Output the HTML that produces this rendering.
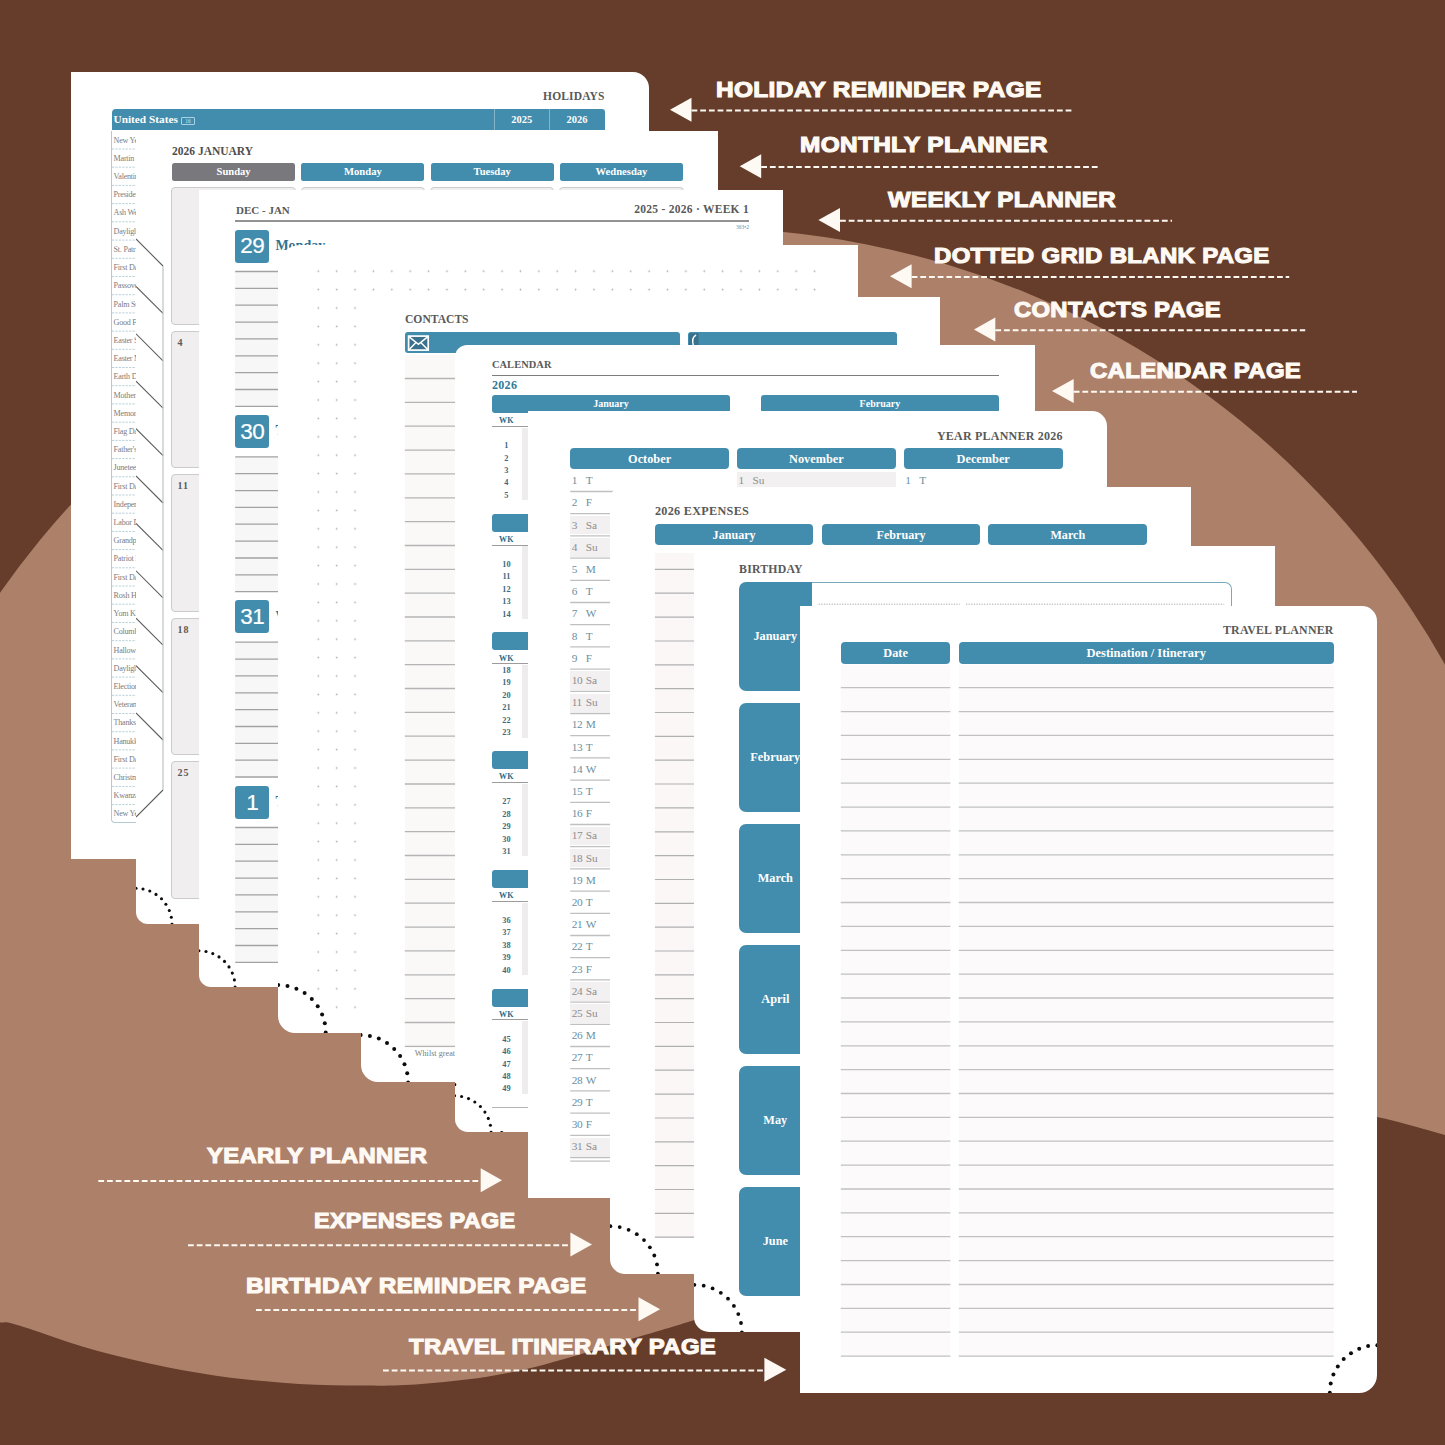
<!DOCTYPE html><html><head><meta charset="utf-8"><title>Planner pages</title><style>
html,body{margin:0;padding:0;background:#653d2a;}
#c{position:relative;width:1445px;height:1445px;overflow:hidden;background:#653d2a;font-family:'Liberation Serif','DejaVu Serif',serif;}
#c div,#c span,#c svg{position:absolute;box-sizing:border-box;}
.pg{background:#fff;overflow:hidden;}
.in{left:0;top:0;}
.lbl{font:bold 22.5px 'Liberation Sans','DejaVu Sans',sans-serif;letter-spacing:.3px;color:#fef9f3;white-space:nowrap;line-height:24px;-webkit-text-stroke:1.15px #fef9f3;transform-origin:0 0;}
.t{white-space:nowrap;line-height:1;}
</style></head><body><div id="c">
<svg width="1445" height="1445" viewBox="0 0 1445 1445" style="left:0;top:0"><circle cx="700" cy="1082" r="854" fill="#ad806a"/><path d="M-40,1322.5 C-33.3,1322.5 -8.3,1322.4 0,1322.5 C8.3,1322.6 4.5,1321.8 10,1323 C15.5,1324.2 23.6,1326.9 33,1330 C42.4,1333.1 55.3,1337.9 66.4,1341.5 C77.5,1345.1 88.6,1348.4 99.7,1351.4 C110.8,1354.4 122.0,1357.1 133,1359.7 C144.1,1362.3 154.9,1364.8 166,1367 C177.1,1369.2 188.2,1371.2 199.3,1373 C210.4,1374.8 221.4,1376.6 232.5,1378 C243.6,1379.4 254.6,1380.3 265.7,1381.3 C276.8,1382.3 287.9,1383.3 299,1384 C310.1,1384.7 321.1,1385.0 332.2,1385.3 C343.3,1385.6 354.1,1385.6 365.4,1385.6 C376.7,1385.6 386.9,1385.8 400,1385.2 C413.1,1384.6 429.5,1383.4 444.3,1381.9 C459.1,1380.4 473.8,1378.8 488.6,1376.4 C503.4,1374.0 518.1,1371.0 532.9,1367.5 C547.6,1364.0 562.4,1359.5 577.1,1355.3 C591.9,1351.0 606.6,1346.4 621.4,1342 C636.2,1337.6 653.5,1332.5 665.7,1328.8 C677.9,1325.1 672.1,1326.9 694.5,1319.9 C716.9,1312.9 757.4,1300.3 800,1287 C842.6,1273.7 900.0,1256.2 950,1240 C1000.0,1223.8 1055.0,1205.8 1100,1190 C1145.0,1174.2 1188.3,1156.7 1220,1145 C1251.7,1133.3 1270.8,1125.3 1290,1120 C1309.2,1114.7 1320.5,1113.5 1335,1113 C1349.5,1112.5 1358.7,1113.3 1377,1117 C1395.3,1120.7 1424.5,1129.2 1445,1135 C1465.5,1140.8 1490.8,1149.2 1500,1152 L1500,1500 L-40,1500 Z" fill="#653d2a"/></svg>
<div class="pg" style="left:71px;top:71.6px;width:578.3px;height:787.4px;border-radius:0 16px 0 0"><div class="in" style="left:-71px;top:-71.6px;width:1445px;height:1445px"><span class="t" style="left:604.6px;top:91.27px;font-size:11.5px;line-height:11.5px;font-family:'Liberation Serif','DejaVu Serif',serif;transform:translateX(-100%);font-weight:bold;color:#595959;letter-spacing:.15px">HOLIDAYS</span><div style="left:111.6px;top:109.1px;width:493.0px;height:21.4px;background:#428cad;border-radius:4px 3px 0 0"></div><div style="left:494.2px;top:109.1px;width:1.0px;height:21.4px;background:rgba(255,255,255,.35)"></div><div style="left:549.0px;top:109.1px;width:1.0px;height:21.4px;background:rgba(255,255,255,.35)"></div><span class="t" style="left:113.5px;top:114.24px;font-size:11.3px;line-height:11.3px;font-family:'Liberation Serif','DejaVu Serif',serif;font-weight:bold;color:#fff">United States</span><div style="left:180.8px;top:116.6px;width:14.4px;height:8.9px;border:1px solid #a9d2e4;border-radius:1px"></div><span class="t" style="left:188.0px;top:118.59px;font-size:5.5px;line-height:5.5px;font-family:'Liberation Serif','DejaVu Serif',serif;transform:translateX(-50%);color:#cfe6f0">16</span><span class="t" style="left:521.7px;top:115.21px;font-size:10.5px;line-height:10.5px;font-family:'Liberation Serif','DejaVu Serif',serif;transform:translateX(-50%);font-weight:bold;color:#fff">2025</span><span class="t" style="left:577.1px;top:115.21px;font-size:10.5px;line-height:10.5px;font-family:'Liberation Serif','DejaVu Serif',serif;transform:translateX(-50%);font-weight:bold;color:#fff">2026</span><div style="left:111.1px;top:130.5px;width:88.9px;height:692.5px;border-left:1px solid #b3cad5;border-bottom:1px solid #b3cad5;border-radius:0 0 0 4px"></div><span class="t" style="left:113.6px;top:136.62px;font-size:8.1px;line-height:8.1px;font-family:'Liberation Serif','DejaVu Serif',serif;color:#7c7c7c;letter-spacing:-.25px">New Year's Day</span><span class="t" style="left:113.6px;top:154.83px;font-size:8.1px;line-height:8.1px;font-family:'Liberation Serif','DejaVu Serif',serif;color:#7c7c7c;letter-spacing:-.25px">Martin Luther King Jr. Day</span><span class="t" style="left:113.6px;top:173.04px;font-size:8.1px;line-height:8.1px;font-family:'Liberation Serif','DejaVu Serif',serif;color:#7c7c7c;letter-spacing:-.25px">Valentine's Day</span><span class="t" style="left:113.6px;top:191.25px;font-size:8.1px;line-height:8.1px;font-family:'Liberation Serif','DejaVu Serif',serif;color:#7c7c7c;letter-spacing:-.25px">Presidents' Day</span><span class="t" style="left:113.6px;top:209.46px;font-size:8.1px;line-height:8.1px;font-family:'Liberation Serif','DejaVu Serif',serif;color:#7c7c7c;letter-spacing:-.25px">Ash Wednesday</span><span class="t" style="left:113.6px;top:227.67px;font-size:8.1px;line-height:8.1px;font-family:'Liberation Serif','DejaVu Serif',serif;color:#7c7c7c;letter-spacing:-.25px">Daylight Saving Time starts</span><span class="t" style="left:113.6px;top:245.88px;font-size:8.1px;line-height:8.1px;font-family:'Liberation Serif','DejaVu Serif',serif;color:#7c7c7c;letter-spacing:-.25px">St. Patrick's Day</span><span class="t" style="left:113.6px;top:264.09px;font-size:8.1px;line-height:8.1px;font-family:'Liberation Serif','DejaVu Serif',serif;color:#7c7c7c;letter-spacing:-.25px">First Day of Spring</span><span class="t" style="left:113.6px;top:282.30px;font-size:8.1px;line-height:8.1px;font-family:'Liberation Serif','DejaVu Serif',serif;color:#7c7c7c;letter-spacing:-.25px">Passover</span><span class="t" style="left:113.6px;top:300.51px;font-size:8.1px;line-height:8.1px;font-family:'Liberation Serif','DejaVu Serif',serif;color:#7c7c7c;letter-spacing:-.25px">Palm Sunday</span><span class="t" style="left:113.6px;top:318.72px;font-size:8.1px;line-height:8.1px;font-family:'Liberation Serif','DejaVu Serif',serif;color:#7c7c7c;letter-spacing:-.25px">Good Friday</span><span class="t" style="left:113.6px;top:336.93px;font-size:8.1px;line-height:8.1px;font-family:'Liberation Serif','DejaVu Serif',serif;color:#7c7c7c;letter-spacing:-.25px">Easter Sunday</span><span class="t" style="left:113.6px;top:355.14px;font-size:8.1px;line-height:8.1px;font-family:'Liberation Serif','DejaVu Serif',serif;color:#7c7c7c;letter-spacing:-.25px">Easter Monday</span><span class="t" style="left:113.6px;top:373.35px;font-size:8.1px;line-height:8.1px;font-family:'Liberation Serif','DejaVu Serif',serif;color:#7c7c7c;letter-spacing:-.25px">Earth Day</span><span class="t" style="left:113.6px;top:391.56px;font-size:8.1px;line-height:8.1px;font-family:'Liberation Serif','DejaVu Serif',serif;color:#7c7c7c;letter-spacing:-.25px">Mother's Day</span><span class="t" style="left:113.6px;top:409.77px;font-size:8.1px;line-height:8.1px;font-family:'Liberation Serif','DejaVu Serif',serif;color:#7c7c7c;letter-spacing:-.25px">Memorial Day</span><span class="t" style="left:113.6px;top:427.98px;font-size:8.1px;line-height:8.1px;font-family:'Liberation Serif','DejaVu Serif',serif;color:#7c7c7c;letter-spacing:-.25px">Flag Day</span><span class="t" style="left:113.6px;top:446.19px;font-size:8.1px;line-height:8.1px;font-family:'Liberation Serif','DejaVu Serif',serif;color:#7c7c7c;letter-spacing:-.25px">Father's Day</span><span class="t" style="left:113.6px;top:464.40px;font-size:8.1px;line-height:8.1px;font-family:'Liberation Serif','DejaVu Serif',serif;color:#7c7c7c;letter-spacing:-.25px">Juneteenth</span><span class="t" style="left:113.6px;top:482.61px;font-size:8.1px;line-height:8.1px;font-family:'Liberation Serif','DejaVu Serif',serif;color:#7c7c7c;letter-spacing:-.25px">First Day of Summer</span><span class="t" style="left:113.6px;top:500.82px;font-size:8.1px;line-height:8.1px;font-family:'Liberation Serif','DejaVu Serif',serif;color:#7c7c7c;letter-spacing:-.25px">Independence Day</span><span class="t" style="left:113.6px;top:519.03px;font-size:8.1px;line-height:8.1px;font-family:'Liberation Serif','DejaVu Serif',serif;color:#7c7c7c;letter-spacing:-.25px">Labor Day</span><span class="t" style="left:113.6px;top:537.24px;font-size:8.1px;line-height:8.1px;font-family:'Liberation Serif','DejaVu Serif',serif;color:#7c7c7c;letter-spacing:-.25px">Grandparents Day</span><span class="t" style="left:113.6px;top:555.45px;font-size:8.1px;line-height:8.1px;font-family:'Liberation Serif','DejaVu Serif',serif;color:#7c7c7c;letter-spacing:-.25px">Patriot Day</span><span class="t" style="left:113.6px;top:573.66px;font-size:8.1px;line-height:8.1px;font-family:'Liberation Serif','DejaVu Serif',serif;color:#7c7c7c;letter-spacing:-.25px">First Day of Autumn</span><span class="t" style="left:113.6px;top:591.87px;font-size:8.1px;line-height:8.1px;font-family:'Liberation Serif','DejaVu Serif',serif;color:#7c7c7c;letter-spacing:-.25px">Rosh Hashanah</span><span class="t" style="left:113.6px;top:610.08px;font-size:8.1px;line-height:8.1px;font-family:'Liberation Serif','DejaVu Serif',serif;color:#7c7c7c;letter-spacing:-.25px">Yom Kippur</span><span class="t" style="left:113.6px;top:628.29px;font-size:8.1px;line-height:8.1px;font-family:'Liberation Serif','DejaVu Serif',serif;color:#7c7c7c;letter-spacing:-.25px">Columbus Day</span><span class="t" style="left:113.6px;top:646.50px;font-size:8.1px;line-height:8.1px;font-family:'Liberation Serif','DejaVu Serif',serif;color:#7c7c7c;letter-spacing:-.25px">Halloween</span><span class="t" style="left:113.6px;top:664.71px;font-size:8.1px;line-height:8.1px;font-family:'Liberation Serif','DejaVu Serif',serif;color:#7c7c7c;letter-spacing:-.25px">Daylight Saving Time ends</span><span class="t" style="left:113.6px;top:682.92px;font-size:8.1px;line-height:8.1px;font-family:'Liberation Serif','DejaVu Serif',serif;color:#7c7c7c;letter-spacing:-.25px">Election Day</span><span class="t" style="left:113.6px;top:701.13px;font-size:8.1px;line-height:8.1px;font-family:'Liberation Serif','DejaVu Serif',serif;color:#7c7c7c;letter-spacing:-.25px">Veterans Day</span><span class="t" style="left:113.6px;top:719.34px;font-size:8.1px;line-height:8.1px;font-family:'Liberation Serif','DejaVu Serif',serif;color:#7c7c7c;letter-spacing:-.25px">Thanksgiving Day</span><span class="t" style="left:113.6px;top:737.55px;font-size:8.1px;line-height:8.1px;font-family:'Liberation Serif','DejaVu Serif',serif;color:#7c7c7c;letter-spacing:-.25px">Hanukkah</span><span class="t" style="left:113.6px;top:755.76px;font-size:8.1px;line-height:8.1px;font-family:'Liberation Serif','DejaVu Serif',serif;color:#7c7c7c;letter-spacing:-.25px">First Day of Winter</span><span class="t" style="left:113.6px;top:773.97px;font-size:8.1px;line-height:8.1px;font-family:'Liberation Serif','DejaVu Serif',serif;color:#7c7c7c;letter-spacing:-.25px">Christmas Day</span><span class="t" style="left:113.6px;top:792.18px;font-size:8.1px;line-height:8.1px;font-family:'Liberation Serif','DejaVu Serif',serif;color:#7c7c7c;letter-spacing:-.25px">Kwanzaa</span><span class="t" style="left:113.6px;top:810.39px;font-size:8.1px;line-height:8.1px;font-family:'Liberation Serif','DejaVu Serif',serif;color:#7c7c7c;letter-spacing:-.25px">New Year's Eve</span><svg width="1445" height="1445" viewBox="0 0 1445 1445" style="left:0;top:0" stroke="#b9cfd9" stroke-width="1" stroke-dasharray="2.2 1.2" fill="none"><path d="M112,149.0H400"/><path d="M112,167.2H400"/><path d="M112,185.4H400"/><path d="M112,203.6H400"/><path d="M112,221.8H400"/><path d="M112,240.1H400"/><path d="M112,258.3H400"/><path d="M112,276.5H400"/><path d="M112,294.7H400"/><path d="M112,312.9H400"/><path d="M112,331.1H400"/><path d="M112,349.3H400"/><path d="M112,367.5H400"/><path d="M112,385.7H400"/><path d="M112,403.9H400"/><path d="M112,422.2H400"/><path d="M112,440.4H400"/><path d="M112,458.6H400"/><path d="M112,476.8H400"/><path d="M112,495.0H400"/><path d="M112,513.2H400"/><path d="M112,531.4H400"/><path d="M112,549.6H400"/><path d="M112,567.8H400"/><path d="M112,586.0H400"/><path d="M112,604.2H400"/><path d="M112,622.5H400"/><path d="M112,640.7H400"/><path d="M112,658.9H400"/><path d="M112,677.1H400"/><path d="M112,695.3H400"/><path d="M112,713.5H400"/><path d="M112,731.7H400"/><path d="M112,749.9H400"/><path d="M112,768.1H400"/><path d="M112,786.4H400"/><path d="M112,804.6H400"/></svg></div></div>
<div class="pg" style="left:136px;top:131.1px;width:582.2px;height:793.1999999999999px;border-radius:0 0 0 12px"><div class="in" style="left:-136px;top:-131.1px;width:1445px;height:1445px"><span class="t" style="left:172.0px;top:145.87px;font-size:11.5px;line-height:11.5px;font-family:'Liberation Serif','DejaVu Serif',serif;font-weight:bold;color:#4e4e4e">2026 JANUARY</span><div style="left:172.0px;top:162.5px;width:123.2px;height:18.8px;background:#78787d;border-radius:2.5px"></div><span class="t" style="left:233.6px;top:166.93px;font-size:10.6px;line-height:10.6px;font-family:'Liberation Serif','DejaVu Serif',serif;transform:translateX(-50%);font-weight:bold;color:#fff">Sunday</span><div style="left:171.4px;top:187.4px;width:124.4px;height:137.7px;background:#f0eeef;border:1.2px solid #cbcbcb;border-radius:4px"></div><div style="left:171.4px;top:330.8px;width:124.4px;height:137.7px;background:#f0eeef;border:1.2px solid #cbcbcb;border-radius:4px"></div><div style="left:171.4px;top:474.2px;width:124.4px;height:137.7px;background:#f0eeef;border:1.2px solid #cbcbcb;border-radius:4px"></div><div style="left:171.4px;top:617.6px;width:124.4px;height:137.7px;background:#f0eeef;border:1.2px solid #cbcbcb;border-radius:4px"></div><div style="left:171.4px;top:761.0px;width:124.4px;height:137.7px;background:#f0eeef;border:1.2px solid #cbcbcb;border-radius:4px"></div><div style="left:301.3px;top:162.5px;width:123.2px;height:18.8px;background:#428cad;border-radius:2.5px"></div><span class="t" style="left:362.9px;top:166.93px;font-size:10.6px;line-height:10.6px;font-family:'Liberation Serif','DejaVu Serif',serif;transform:translateX(-50%);font-weight:bold;color:#fff">Monday</span><div style="left:300.7px;top:187.4px;width:124.4px;height:137.7px;background:#f0eeef;border:1.2px solid #cbcbcb;border-radius:4px"></div><div style="left:300.7px;top:330.8px;width:124.4px;height:137.7px;background:#f0eeef;border:1.2px solid #cbcbcb;border-radius:4px"></div><div style="left:300.7px;top:474.2px;width:124.4px;height:137.7px;background:#f0eeef;border:1.2px solid #cbcbcb;border-radius:4px"></div><div style="left:300.7px;top:617.6px;width:124.4px;height:137.7px;background:#f0eeef;border:1.2px solid #cbcbcb;border-radius:4px"></div><div style="left:300.7px;top:761.0px;width:124.4px;height:137.7px;background:#f0eeef;border:1.2px solid #cbcbcb;border-radius:4px"></div><div style="left:430.6px;top:162.5px;width:123.2px;height:18.8px;background:#428cad;border-radius:2.5px"></div><span class="t" style="left:492.2px;top:166.93px;font-size:10.6px;line-height:10.6px;font-family:'Liberation Serif','DejaVu Serif',serif;transform:translateX(-50%);font-weight:bold;color:#fff">Tuesday</span><div style="left:430.0px;top:187.4px;width:124.4px;height:137.7px;background:#f0eeef;border:1.2px solid #cbcbcb;border-radius:4px"></div><div style="left:430.0px;top:330.8px;width:124.4px;height:137.7px;background:#f0eeef;border:1.2px solid #cbcbcb;border-radius:4px"></div><div style="left:430.0px;top:474.2px;width:124.4px;height:137.7px;background:#f0eeef;border:1.2px solid #cbcbcb;border-radius:4px"></div><div style="left:430.0px;top:617.6px;width:124.4px;height:137.7px;background:#f0eeef;border:1.2px solid #cbcbcb;border-radius:4px"></div><div style="left:430.0px;top:761.0px;width:124.4px;height:137.7px;background:#f0eeef;border:1.2px solid #cbcbcb;border-radius:4px"></div><div style="left:559.9px;top:162.5px;width:123.2px;height:18.8px;background:#428cad;border-radius:2.5px"></div><span class="t" style="left:621.5px;top:166.93px;font-size:10.6px;line-height:10.6px;font-family:'Liberation Serif','DejaVu Serif',serif;transform:translateX(-50%);font-weight:bold;color:#fff">Wednesday</span><div style="left:559.3px;top:187.4px;width:124.4px;height:137.7px;background:#f0eeef;border:1.2px solid #cbcbcb;border-radius:4px"></div><div style="left:559.3px;top:330.8px;width:124.4px;height:137.7px;background:#f0eeef;border:1.2px solid #cbcbcb;border-radius:4px"></div><div style="left:559.3px;top:474.2px;width:124.4px;height:137.7px;background:#f0eeef;border:1.2px solid #cbcbcb;border-radius:4px"></div><div style="left:559.3px;top:617.6px;width:124.4px;height:137.7px;background:#f0eeef;border:1.2px solid #cbcbcb;border-radius:4px"></div><div style="left:559.3px;top:761.0px;width:124.4px;height:137.7px;background:#f0eeef;border:1.2px solid #cbcbcb;border-radius:4px"></div><span class="t" style="left:177.6px;top:337.93px;font-size:10px;line-height:10px;font-family:'Liberation Serif','DejaVu Serif',serif;font-weight:bold;color:#5a5a5a;letter-spacing:.9px">4</span><span class="t" style="left:177.6px;top:481.33px;font-size:10px;line-height:10px;font-family:'Liberation Serif','DejaVu Serif',serif;font-weight:bold;color:#5a5a5a;letter-spacing:.9px">11</span><span class="t" style="left:177.6px;top:624.73px;font-size:10px;line-height:10px;font-family:'Liberation Serif','DejaVu Serif',serif;font-weight:bold;color:#5a5a5a;letter-spacing:.9px">18</span><span class="t" style="left:177.6px;top:768.12px;font-size:10px;line-height:10px;font-family:'Liberation Serif','DejaVu Serif',serif;font-weight:bold;color:#5a5a5a;letter-spacing:.9px">25</span><svg width="1445" height="1445" viewBox="0 0 1445 1445" style="left:0;top:0" stroke-width="0.9" fill="none"><path d="M136,239 L163,266 M163,790 L136,817 M136,286.4 L163,313.4 M136,333.8 L163,360.8 M136,381.2 L163,408.2 M136,428.6 L163,455.6 M136,476.0 L163,503.0 M136,523.4 L163,550.4 M136,570.8 L163,597.8 M136,618.2 L163,645.2 M136,665.6 L163,692.6 M136,713.0 L163,740.0" stroke="#5e5e5e" stroke-width="1.1"/><path d="M163,266 V790" stroke="#c2c2c2" stroke-width="1.2"/></svg><svg width="1445" height="1445" viewBox="0 0 1445 1445" style="left:0;top:0" fill="#0c0c0c"><circle cx="136.0" cy="888.3" r="1.55"/><circle cx="143.0" cy="889.0" r="1.55"/><circle cx="149.8" cy="891.0" r="1.55"/><circle cx="156.0" cy="894.4" r="1.55"/><circle cx="161.5" cy="898.8" r="1.55"/><circle cx="165.9" cy="904.3" r="1.55"/><circle cx="169.3" cy="910.5" r="1.55"/><circle cx="171.3" cy="917.3" r="1.55"/><circle cx="172.0" cy="924.3" r="1.55"/></svg></div></div>
<div class="pg" style="left:198.9px;top:190.2px;width:584.6px;height:796.8px;border-radius:0 0 0 12px"><div class="in" style="left:-198.9px;top:-190.2px;width:1445px;height:1445px"><span class="t" style="left:236.0px;top:204.69px;font-size:11px;line-height:11px;font-family:'Liberation Serif','DejaVu Serif',serif;font-weight:bold;color:#595959;letter-spacing:0">DEC - JAN</span><span class="t" style="left:749.0px;top:204.27px;font-size:11.5px;line-height:11.5px;font-family:'Liberation Serif','DejaVu Serif',serif;transform:translateX(-100%);font-weight:bold;color:#595959;letter-spacing:.27px">2025 - 2026 · WEEK 1</span><div style="left:235.2px;top:220.0px;width:513.8px;height:1.5px;background:#939393"></div><span class="t" style="left:749.0px;top:224.99px;font-size:5.5px;line-height:5.5px;font-family:'Liberation Serif','DejaVu Serif',serif;transform:translateX(-100%);color:#5b93ad">363•2</span><div style="left:235.2px;top:271.5px;width:513.8px;height:134.8px;background:#f8f7f7"></div><div style="left:235.2px;top:229.5px;width:33.5px;height:33.2px;background:#428cad;border-radius:3px"></div><span class="t" style="left:252.2px;top:235.45px;font-size:22.5px;line-height:22.5px;font-family:'Liberation Sans','DejaVu Sans',sans-serif;transform:translateX(-50%);color:#fff;letter-spacing:-.6px;-webkit-text-stroke:.2px #fff">29</span><span class="t" style="left:275.4px;top:238.97px;font-size:14px;line-height:14px;font-family:'Liberation Serif','DejaVu Serif',serif;font-weight:bold;color:#2f7291">Monday</span><div style="left:235.2px;top:456.9px;width:513.8px;height:134.8px;background:#f8f7f7"></div><div style="left:235.2px;top:414.9px;width:33.5px;height:33.2px;background:#428cad;border-radius:3px"></div><span class="t" style="left:252.2px;top:420.80px;font-size:22.5px;line-height:22.5px;font-family:'Liberation Sans','DejaVu Sans',sans-serif;transform:translateX(-50%);color:#fff;letter-spacing:-.6px;-webkit-text-stroke:.2px #fff">30</span><span class="t" style="left:275.4px;top:424.32px;font-size:14px;line-height:14px;font-family:'Liberation Serif','DejaVu Serif',serif;font-weight:bold;color:#2f7291">Tuesday</span><div style="left:235.2px;top:642.2px;width:513.8px;height:134.8px;background:#f8f7f7"></div><div style="left:235.2px;top:600.2px;width:33.5px;height:33.2px;background:#428cad;border-radius:3px"></div><span class="t" style="left:252.2px;top:606.15px;font-size:22.5px;line-height:22.5px;font-family:'Liberation Sans','DejaVu Sans',sans-serif;transform:translateX(-50%);color:#fff;letter-spacing:-.6px;-webkit-text-stroke:.2px #fff">31</span><span class="t" style="left:275.4px;top:609.68px;font-size:14px;line-height:14px;font-family:'Liberation Serif','DejaVu Serif',serif;font-weight:bold;color:#2f7291">Wednesday</span><div style="left:235.2px;top:827.5px;width:513.8px;height:134.8px;background:#f8f7f7"></div><div style="left:235.2px;top:785.5px;width:33.5px;height:33.2px;background:#428cad;border-radius:3px"></div><span class="t" style="left:252.2px;top:791.50px;font-size:22.5px;line-height:22.5px;font-family:'Liberation Sans','DejaVu Sans',sans-serif;transform:translateX(-50%);color:#fff;letter-spacing:-.6px;-webkit-text-stroke:.2px #fff">1</span><span class="t" style="left:275.4px;top:795.02px;font-size:14px;line-height:14px;font-family:'Liberation Serif','DejaVu Serif',serif;font-weight:bold;color:#2f7291">Thursday</span><svg width="1445" height="1445" viewBox="0 0 1445 1445" style="left:0;top:0" stroke="#a2a2a2" stroke-width="1.3" fill="none"><path d="M235.2,271.5H749"/><path d="M235.2,288.4H749"/><path d="M235.2,305.2H749"/><path d="M235.2,322.1H749"/><path d="M235.2,338.9H749"/><path d="M235.2,355.8H749"/><path d="M235.2,372.6H749"/><path d="M235.2,389.5H749"/><path d="M235.2,406.3H749"/><path d="M235.2,456.9H749"/><path d="M235.2,473.7H749"/><path d="M235.2,490.6H749"/><path d="M235.2,507.4H749"/><path d="M235.2,524.2H749"/><path d="M235.2,541.1H749"/><path d="M235.2,558.0H749"/><path d="M235.2,574.8H749"/><path d="M235.2,591.7H749"/><path d="M235.2,642.2H749"/><path d="M235.2,659.1H749"/><path d="M235.2,675.9H749"/><path d="M235.2,692.8H749"/><path d="M235.2,709.6H749"/><path d="M235.2,726.5H749"/><path d="M235.2,743.3H749"/><path d="M235.2,760.2H749"/><path d="M235.2,777.0H749"/><path d="M235.2,827.5H749"/><path d="M235.2,844.4H749"/><path d="M235.2,861.2H749"/><path d="M235.2,878.1H749"/><path d="M235.2,894.9H749"/><path d="M235.2,911.8H749"/><path d="M235.2,928.6H749"/><path d="M235.2,945.5H749"/><path d="M235.2,962.3H749"/></svg><svg width="1445" height="1445" viewBox="0 0 1445 1445" style="left:0;top:0" fill="#0c0c0c"><circle cx="198.9" cy="950.8" r="1.55"/><circle cx="206.0" cy="951.5" r="1.55"/><circle cx="212.8" cy="953.6" r="1.55"/><circle cx="219.0" cy="956.9" r="1.55"/><circle cx="224.5" cy="961.4" r="1.55"/><circle cx="229.0" cy="966.9" r="1.55"/><circle cx="232.3" cy="973.1" r="1.55"/><circle cx="234.4" cy="979.9" r="1.55"/><circle cx="235.1" cy="987.0" r="1.55"/></svg></div></div>
<div class="pg" style="left:278.2px;top:245px;width:579.4000000000001px;height:787.5999999999999px;border-radius:22px 0 0 17px"><div class="in" style="left:-278.2px;top:-245px;width:1445px;height:1445px"><svg width="1445" height="1445" viewBox="0 0 1445 1445" style="left:0;top:0" ><defs><pattern id="dg" x="309.11" y="262" width="18.38" height="18.4" patternUnits="userSpaceOnUse"><circle cx="9.19" cy="9.2" r="0.85" fill="#adadad"/></pattern></defs><rect x="309.2" y="262" width="516" height="755" fill="url(#dg)"/></svg><svg width="1445" height="1445" viewBox="0 0 1445 1445" style="left:0;top:0" fill="#0c0c0c"><circle cx="278.2" cy="985.1" r="2.0"/><circle cx="287.5" cy="986.0" r="2.0"/><circle cx="296.4" cy="988.7" r="2.0"/><circle cx="304.6" cy="993.1" r="2.0"/><circle cx="311.8" cy="999.0" r="2.0"/><circle cx="317.7" cy="1006.2" r="2.0"/><circle cx="322.1" cy="1014.4" r="2.0"/><circle cx="324.8" cy="1023.3" r="2.0"/><circle cx="325.7" cy="1032.6" r="2.0"/></svg></div></div>
<div class="pg" style="left:360.6px;top:296.6px;width:579.9px;height:785.9px;border-radius:0 0 0 17px"><div class="in" style="left:-360.6px;top:-296.6px;width:1445px;height:1445px"><span class="t" style="left:405.0px;top:314.19px;font-size:11.6px;line-height:11.6px;font-family:'Liberation Serif','DejaVu Serif',serif;font-weight:bold;color:#595959">CONTACTS</span><div style="left:404.8px;top:355.0px;width:492.2px;height:692.5px;background:#fbf8f8"></div><div style="left:404.9px;top:332.3px;width:275.2px;height:21.2px;background:#428cad;border-radius:3px"></div><div style="left:688.0px;top:332.3px;width:209.0px;height:21.2px;background:#428cad;border-radius:3px"></div><svg width="1445" height="1445" viewBox="0 0 1445 1445" style="left:0;top:0" ><rect x="408.6" y="336.1" width="19.6" height="14" fill="#3a728e" stroke="#fff" stroke-width="1.7"/><path d="M409.2,336.8 L418.4,344.4 L427.6,336.8 M409.2,349.6 L416,342.6 M427.6,349.6 L420.8,342.6" stroke="#fff" stroke-width="1.5" fill="none"/><rect x="689" y="333.2" width="9.6" height="19" fill="#3a728e"/><path d="M695.6,335.4 c-2.6,1.6 -3.6,4.6 -2.4,9.2" stroke="#fff" stroke-width="1.5" fill="none" stroke-linecap="round"/></svg><svg width="1445" height="1445" viewBox="0 0 1445 1445" style="left:0;top:0" stroke="#b4b4b4" stroke-width="1.3" fill="none"><path d="M404.8,378.5H897"/><path d="M404.8,402.4H897"/><path d="M404.8,426.2H897"/><path d="M404.8,450.1H897"/><path d="M404.8,473.9H897"/><path d="M404.8,497.8H897"/><path d="M404.8,521.6H897"/><path d="M404.8,545.5H897"/><path d="M404.8,569.3H897"/><path d="M404.8,593.1H897"/><path d="M404.8,617.0H897"/><path d="M404.8,640.9H897"/><path d="M404.8,664.7H897"/><path d="M404.8,688.5H897"/><path d="M404.8,712.4H897"/><path d="M404.8,736.2H897"/><path d="M404.8,760.1H897"/><path d="M404.8,784.0H897"/><path d="M404.8,807.8H897"/><path d="M404.8,831.7H897"/><path d="M404.8,855.5H897"/><path d="M404.8,879.4H897"/><path d="M404.8,903.2H897"/><path d="M404.8,927.1H897"/><path d="M404.8,950.9H897"/><path d="M404.8,974.8H897"/><path d="M404.8,998.6H897"/><path d="M404.8,1022.5H897"/><path d="M404.8,1046.3H897"/></svg><span class="t" style="left:414.8px;top:1049.73px;font-size:8.2px;line-height:8.2px;font-family:'Liberation Serif','DejaVu Serif',serif;color:#7c7c7c">Whilst great care has been taken in the compilation of this planner</span><svg width="1445" height="1445" viewBox="0 0 1445 1445" style="left:0;top:0" fill="#0c0c0c"><circle cx="360.6" cy="1035.0" r="2.0"/><circle cx="369.9" cy="1035.9" r="2.0"/><circle cx="378.8" cy="1038.6" r="2.0"/><circle cx="387.0" cy="1043.0" r="2.0"/><circle cx="394.2" cy="1048.9" r="2.0"/><circle cx="400.1" cy="1056.1" r="2.0"/><circle cx="404.5" cy="1064.3" r="2.0"/><circle cx="407.2" cy="1073.2" r="2.0"/><circle cx="408.1" cy="1082.5" r="2.0"/></svg></div></div>
<div class="pg" style="left:454.5px;top:344.7px;width:580.5px;height:787.7px;border-radius:12px 0 0 13px"><div class="in" style="left:-454.5px;top:-344.7px;width:1445px;height:1445px"><span class="t" style="left:491.9px;top:359.89px;font-size:10.4px;line-height:10.4px;font-family:'Liberation Serif','DejaVu Serif',serif;font-weight:bold;color:#595959;letter-spacing:.1px">CALENDAR</span><div style="left:491.9px;top:374.5px;width:507.3px;height:1.1px;background:#7d7d7d"></div><span class="t" style="left:491.9px;top:378.85px;font-size:12px;line-height:12px;font-family:'Liberation Serif','DejaVu Serif',serif;font-weight:bold;color:#2f7a99;letter-spacing:.35px">2026</span><div style="left:491.9px;top:395.0px;width:238.3px;height:18.1px;background:#428cad;border-radius:3px"></div><span class="t" style="left:611.0px;top:399.38px;font-size:10px;line-height:10px;font-family:'Liberation Serif','DejaVu Serif',serif;transform:translateX(-50%);font-weight:bold;color:#fff">January</span><div style="left:760.5px;top:395.0px;width:238.7px;height:18.1px;background:#428cad;border-radius:3px"></div><span class="t" style="left:879.9px;top:399.38px;font-size:10px;line-height:10px;font-family:'Liberation Serif','DejaVu Serif',serif;transform:translateX(-50%);font-weight:bold;color:#fff">February</span><span class="t" style="left:506.4px;top:417.10px;font-size:8px;line-height:8px;font-family:'Liberation Serif','DejaVu Serif',serif;transform:translateX(-50%);font-weight:bold;color:#2d6983;letter-spacing:.3px">WK</span><div style="left:491.9px;top:425.8px;width:238.3px;height:1.1px;background:#9c9c9c"></div><div style="left:522.0px;top:427.6px;width:6.5px;height:72.6px;background:#eeecec"></div><span class="t" style="left:506.4px;top:442.05px;font-size:8.3px;line-height:8.3px;font-family:'Liberation Serif','DejaVu Serif',serif;transform:translateX(-50%);font-weight:bold;color:#3a6b80">1</span><span class="t" style="left:506.4px;top:454.50px;font-size:8.3px;line-height:8.3px;font-family:'Liberation Serif','DejaVu Serif',serif;transform:translateX(-50%);font-weight:bold;color:#3a6b80">2</span><span class="t" style="left:506.4px;top:466.95px;font-size:8.3px;line-height:8.3px;font-family:'Liberation Serif','DejaVu Serif',serif;transform:translateX(-50%);font-weight:bold;color:#3a6b80">3</span><span class="t" style="left:506.4px;top:479.40px;font-size:8.3px;line-height:8.3px;font-family:'Liberation Serif','DejaVu Serif',serif;transform:translateX(-50%);font-weight:bold;color:#3a6b80">4</span><span class="t" style="left:506.4px;top:491.85px;font-size:8.3px;line-height:8.3px;font-family:'Liberation Serif','DejaVu Serif',serif;transform:translateX(-50%);font-weight:bold;color:#3a6b80">5</span><div style="left:491.9px;top:513.7px;width:238.3px;height:18.1px;background:#428cad;border-radius:3px"></div><span class="t" style="left:611.0px;top:518.09px;font-size:10px;line-height:10px;font-family:'Liberation Serif','DejaVu Serif',serif;transform:translateX(-50%);font-weight:bold;color:#fff">March</span><div style="left:760.5px;top:513.7px;width:238.7px;height:18.1px;background:#428cad;border-radius:3px"></div><span class="t" style="left:879.9px;top:518.09px;font-size:10px;line-height:10px;font-family:'Liberation Serif','DejaVu Serif',serif;transform:translateX(-50%);font-weight:bold;color:#fff">April</span><span class="t" style="left:506.4px;top:535.82px;font-size:8px;line-height:8px;font-family:'Liberation Serif','DejaVu Serif',serif;transform:translateX(-50%);font-weight:bold;color:#2d6983;letter-spacing:.3px">WK</span><div style="left:491.9px;top:544.5px;width:238.3px;height:1.1px;background:#9c9c9c"></div><div style="left:522.0px;top:546.3px;width:6.5px;height:72.6px;background:#eeecec"></div><span class="t" style="left:506.4px;top:560.77px;font-size:8.3px;line-height:8.3px;font-family:'Liberation Serif','DejaVu Serif',serif;transform:translateX(-50%);font-weight:bold;color:#3a6b80">10</span><span class="t" style="left:506.4px;top:573.22px;font-size:8.3px;line-height:8.3px;font-family:'Liberation Serif','DejaVu Serif',serif;transform:translateX(-50%);font-weight:bold;color:#3a6b80">11</span><span class="t" style="left:506.4px;top:585.67px;font-size:8.3px;line-height:8.3px;font-family:'Liberation Serif','DejaVu Serif',serif;transform:translateX(-50%);font-weight:bold;color:#3a6b80">12</span><span class="t" style="left:506.4px;top:598.12px;font-size:8.3px;line-height:8.3px;font-family:'Liberation Serif','DejaVu Serif',serif;transform:translateX(-50%);font-weight:bold;color:#3a6b80">13</span><span class="t" style="left:506.4px;top:610.57px;font-size:8.3px;line-height:8.3px;font-family:'Liberation Serif','DejaVu Serif',serif;transform:translateX(-50%);font-weight:bold;color:#3a6b80">14</span><div style="left:491.9px;top:632.4px;width:238.3px;height:18.1px;background:#428cad;border-radius:3px"></div><span class="t" style="left:611.0px;top:636.81px;font-size:10px;line-height:10px;font-family:'Liberation Serif','DejaVu Serif',serif;transform:translateX(-50%);font-weight:bold;color:#fff">May</span><div style="left:760.5px;top:632.4px;width:238.7px;height:18.1px;background:#428cad;border-radius:3px"></div><span class="t" style="left:879.9px;top:636.81px;font-size:10px;line-height:10px;font-family:'Liberation Serif','DejaVu Serif',serif;transform:translateX(-50%);font-weight:bold;color:#fff">June</span><span class="t" style="left:506.4px;top:654.54px;font-size:8px;line-height:8px;font-family:'Liberation Serif','DejaVu Serif',serif;transform:translateX(-50%);font-weight:bold;color:#2d6983;letter-spacing:.3px">WK</span><div style="left:491.9px;top:663.2px;width:238.3px;height:1.1px;background:#9c9c9c"></div><div style="left:522.0px;top:665.0px;width:6.5px;height:72.6px;background:#eeecec"></div><span class="t" style="left:506.4px;top:667.04px;font-size:8.3px;line-height:8.3px;font-family:'Liberation Serif','DejaVu Serif',serif;transform:translateX(-50%);font-weight:bold;color:#3a6b80">18</span><span class="t" style="left:506.4px;top:679.49px;font-size:8.3px;line-height:8.3px;font-family:'Liberation Serif','DejaVu Serif',serif;transform:translateX(-50%);font-weight:bold;color:#3a6b80">19</span><span class="t" style="left:506.4px;top:691.94px;font-size:8.3px;line-height:8.3px;font-family:'Liberation Serif','DejaVu Serif',serif;transform:translateX(-50%);font-weight:bold;color:#3a6b80">20</span><span class="t" style="left:506.4px;top:704.39px;font-size:8.3px;line-height:8.3px;font-family:'Liberation Serif','DejaVu Serif',serif;transform:translateX(-50%);font-weight:bold;color:#3a6b80">21</span><span class="t" style="left:506.4px;top:716.84px;font-size:8.3px;line-height:8.3px;font-family:'Liberation Serif','DejaVu Serif',serif;transform:translateX(-50%);font-weight:bold;color:#3a6b80">22</span><span class="t" style="left:506.4px;top:729.29px;font-size:8.3px;line-height:8.3px;font-family:'Liberation Serif','DejaVu Serif',serif;transform:translateX(-50%);font-weight:bold;color:#3a6b80">23</span><div style="left:491.9px;top:751.2px;width:238.3px;height:18.1px;background:#428cad;border-radius:3px"></div><span class="t" style="left:611.0px;top:755.53px;font-size:10px;line-height:10px;font-family:'Liberation Serif','DejaVu Serif',serif;transform:translateX(-50%);font-weight:bold;color:#fff">July</span><div style="left:760.5px;top:751.2px;width:238.7px;height:18.1px;background:#428cad;border-radius:3px"></div><span class="t" style="left:879.9px;top:755.53px;font-size:10px;line-height:10px;font-family:'Liberation Serif','DejaVu Serif',serif;transform:translateX(-50%);font-weight:bold;color:#fff">August</span><span class="t" style="left:506.4px;top:773.26px;font-size:8px;line-height:8px;font-family:'Liberation Serif','DejaVu Serif',serif;transform:translateX(-50%);font-weight:bold;color:#2d6983;letter-spacing:.3px">WK</span><div style="left:491.9px;top:782.0px;width:238.3px;height:1.1px;background:#9c9c9c"></div><div style="left:522.0px;top:783.8px;width:6.5px;height:72.6px;background:#eeecec"></div><span class="t" style="left:506.4px;top:798.21px;font-size:8.3px;line-height:8.3px;font-family:'Liberation Serif','DejaVu Serif',serif;transform:translateX(-50%);font-weight:bold;color:#3a6b80">27</span><span class="t" style="left:506.4px;top:810.66px;font-size:8.3px;line-height:8.3px;font-family:'Liberation Serif','DejaVu Serif',serif;transform:translateX(-50%);font-weight:bold;color:#3a6b80">28</span><span class="t" style="left:506.4px;top:823.11px;font-size:8.3px;line-height:8.3px;font-family:'Liberation Serif','DejaVu Serif',serif;transform:translateX(-50%);font-weight:bold;color:#3a6b80">29</span><span class="t" style="left:506.4px;top:835.56px;font-size:8.3px;line-height:8.3px;font-family:'Liberation Serif','DejaVu Serif',serif;transform:translateX(-50%);font-weight:bold;color:#3a6b80">30</span><span class="t" style="left:506.4px;top:848.01px;font-size:8.3px;line-height:8.3px;font-family:'Liberation Serif','DejaVu Serif',serif;transform:translateX(-50%);font-weight:bold;color:#3a6b80">31</span><div style="left:491.9px;top:869.9px;width:238.3px;height:18.1px;background:#428cad;border-radius:3px"></div><span class="t" style="left:611.0px;top:874.25px;font-size:10px;line-height:10px;font-family:'Liberation Serif','DejaVu Serif',serif;transform:translateX(-50%);font-weight:bold;color:#fff">September</span><div style="left:760.5px;top:869.9px;width:238.7px;height:18.1px;background:#428cad;border-radius:3px"></div><span class="t" style="left:879.9px;top:874.25px;font-size:10px;line-height:10px;font-family:'Liberation Serif','DejaVu Serif',serif;transform:translateX(-50%);font-weight:bold;color:#fff">October</span><span class="t" style="left:506.4px;top:891.98px;font-size:8px;line-height:8px;font-family:'Liberation Serif','DejaVu Serif',serif;transform:translateX(-50%);font-weight:bold;color:#2d6983;letter-spacing:.3px">WK</span><div style="left:491.9px;top:900.7px;width:238.3px;height:1.1px;background:#9c9c9c"></div><div style="left:522.0px;top:902.5px;width:6.5px;height:72.6px;background:#eeecec"></div><span class="t" style="left:506.4px;top:916.93px;font-size:8.3px;line-height:8.3px;font-family:'Liberation Serif','DejaVu Serif',serif;transform:translateX(-50%);font-weight:bold;color:#3a6b80">36</span><span class="t" style="left:506.4px;top:929.38px;font-size:8.3px;line-height:8.3px;font-family:'Liberation Serif','DejaVu Serif',serif;transform:translateX(-50%);font-weight:bold;color:#3a6b80">37</span><span class="t" style="left:506.4px;top:941.83px;font-size:8.3px;line-height:8.3px;font-family:'Liberation Serif','DejaVu Serif',serif;transform:translateX(-50%);font-weight:bold;color:#3a6b80">38</span><span class="t" style="left:506.4px;top:954.28px;font-size:8.3px;line-height:8.3px;font-family:'Liberation Serif','DejaVu Serif',serif;transform:translateX(-50%);font-weight:bold;color:#3a6b80">39</span><span class="t" style="left:506.4px;top:966.73px;font-size:8.3px;line-height:8.3px;font-family:'Liberation Serif','DejaVu Serif',serif;transform:translateX(-50%);font-weight:bold;color:#3a6b80">40</span><div style="left:491.9px;top:988.6px;width:238.3px;height:18.1px;background:#428cad;border-radius:3px"></div><span class="t" style="left:611.0px;top:992.98px;font-size:10px;line-height:10px;font-family:'Liberation Serif','DejaVu Serif',serif;transform:translateX(-50%);font-weight:bold;color:#fff">November</span><div style="left:760.5px;top:988.6px;width:238.7px;height:18.1px;background:#428cad;border-radius:3px"></div><span class="t" style="left:879.9px;top:992.98px;font-size:10px;line-height:10px;font-family:'Liberation Serif','DejaVu Serif',serif;transform:translateX(-50%);font-weight:bold;color:#fff">December</span><span class="t" style="left:506.4px;top:1010.70px;font-size:8px;line-height:8px;font-family:'Liberation Serif','DejaVu Serif',serif;transform:translateX(-50%);font-weight:bold;color:#2d6983;letter-spacing:.3px">WK</span><div style="left:491.9px;top:1019.4px;width:238.3px;height:1.1px;background:#9c9c9c"></div><div style="left:522.0px;top:1021.2px;width:6.5px;height:72.6px;background:#eeecec"></div><span class="t" style="left:506.4px;top:1035.65px;font-size:8.3px;line-height:8.3px;font-family:'Liberation Serif','DejaVu Serif',serif;transform:translateX(-50%);font-weight:bold;color:#3a6b80">45</span><span class="t" style="left:506.4px;top:1048.10px;font-size:8.3px;line-height:8.3px;font-family:'Liberation Serif','DejaVu Serif',serif;transform:translateX(-50%);font-weight:bold;color:#3a6b80">46</span><span class="t" style="left:506.4px;top:1060.55px;font-size:8.3px;line-height:8.3px;font-family:'Liberation Serif','DejaVu Serif',serif;transform:translateX(-50%);font-weight:bold;color:#3a6b80">47</span><span class="t" style="left:506.4px;top:1073.00px;font-size:8.3px;line-height:8.3px;font-family:'Liberation Serif','DejaVu Serif',serif;transform:translateX(-50%);font-weight:bold;color:#3a6b80">48</span><span class="t" style="left:506.4px;top:1085.45px;font-size:8.3px;line-height:8.3px;font-family:'Liberation Serif','DejaVu Serif',serif;transform:translateX(-50%);font-weight:bold;color:#3a6b80">49</span><div style="left:491.5px;top:1106.5px;width:507.7px;height:1.2px;background:#b5b5b5"></div><svg width="1445" height="1445" viewBox="0 0 1445 1445" style="left:0;top:0" fill="#0c0c0c"><circle cx="454.5" cy="1095.8" r="1.55"/><circle cx="461.6" cy="1096.5" r="1.55"/><circle cx="468.5" cy="1098.6" r="1.55"/><circle cx="474.8" cy="1102.0" r="1.55"/><circle cx="480.4" cy="1106.5" r="1.55"/><circle cx="484.9" cy="1112.1" r="1.55"/><circle cx="488.3" cy="1118.4" r="1.55"/><circle cx="490.4" cy="1125.3" r="1.55"/><circle cx="491.1" cy="1132.4" r="1.55"/><circle cx="454.6" cy="1084.6" r="1.7"/><circle cx="501.7" cy="1132.6" r="1.7"/></svg></div></div>
<div class="pg" style="left:528.2px;top:411px;width:578.3999999999999px;height:787px;border-radius:0 15px 0 0"><div class="in" style="left:-528.2px;top:-411px;width:1445px;height:1445px"><span class="t" style="left:1062.8px;top:429.55px;font-size:12px;line-height:12px;font-family:'Liberation Serif','DejaVu Serif',serif;transform:translateX(-100%);font-weight:bold;color:#595959;letter-spacing:.23px">YEAR PLANNER 2026</span><div style="left:570.2px;top:448.0px;width:158.8px;height:21.0px;background:#428cad;border-radius:4px"></div><span class="t" style="left:649.6px;top:452.68px;font-size:12.3px;line-height:12.3px;font-family:'Liberation Serif','DejaVu Serif',serif;transform:translateX(-50%);font-weight:bold;color:#fff">October</span><span class="t" style="left:571.7px;top:475.24px;font-size:11.3px;line-height:11.3px;font-family:'Liberation Serif','DejaVu Serif',serif;color:#6a8fa0;letter-spacing:-.3px">1</span><span class="t" style="left:585.8px;top:475.24px;font-size:11.3px;line-height:11.3px;font-family:'Liberation Serif','DejaVu Serif',serif;color:#6a8fa0;letter-spacing:-.2px">T</span><span class="t" style="left:571.7px;top:497.44px;font-size:11.3px;line-height:11.3px;font-family:'Liberation Serif','DejaVu Serif',serif;color:#6a8fa0;letter-spacing:-.3px">2</span><span class="t" style="left:585.8px;top:497.44px;font-size:11.3px;line-height:11.3px;font-family:'Liberation Serif','DejaVu Serif',serif;color:#6a8fa0;letter-spacing:-.2px">F</span><div style="left:570.2px;top:515.9px;width:158.8px;height:18.6px;background:#f2f0f0"></div><span class="t" style="left:571.7px;top:519.64px;font-size:11.3px;line-height:11.3px;font-family:'Liberation Serif','DejaVu Serif',serif;color:#8e8e8e;letter-spacing:-.3px">3</span><span class="t" style="left:585.8px;top:519.64px;font-size:11.3px;line-height:11.3px;font-family:'Liberation Serif','DejaVu Serif',serif;color:#8e8e8e;letter-spacing:-.2px">Sa</span><div style="left:570.2px;top:538.1px;width:158.8px;height:18.6px;background:#f2f0f0"></div><span class="t" style="left:571.7px;top:541.84px;font-size:11.3px;line-height:11.3px;font-family:'Liberation Serif','DejaVu Serif',serif;color:#8e8e8e;letter-spacing:-.3px">4</span><span class="t" style="left:585.8px;top:541.84px;font-size:11.3px;line-height:11.3px;font-family:'Liberation Serif','DejaVu Serif',serif;color:#8e8e8e;letter-spacing:-.2px">Su</span><span class="t" style="left:571.7px;top:564.04px;font-size:11.3px;line-height:11.3px;font-family:'Liberation Serif','DejaVu Serif',serif;color:#6a8fa0;letter-spacing:-.3px">5</span><span class="t" style="left:585.8px;top:564.04px;font-size:11.3px;line-height:11.3px;font-family:'Liberation Serif','DejaVu Serif',serif;color:#6a8fa0;letter-spacing:-.2px">M</span><span class="t" style="left:571.7px;top:586.24px;font-size:11.3px;line-height:11.3px;font-family:'Liberation Serif','DejaVu Serif',serif;color:#6a8fa0;letter-spacing:-.3px">6</span><span class="t" style="left:585.8px;top:586.24px;font-size:11.3px;line-height:11.3px;font-family:'Liberation Serif','DejaVu Serif',serif;color:#6a8fa0;letter-spacing:-.2px">T</span><span class="t" style="left:571.7px;top:608.44px;font-size:11.3px;line-height:11.3px;font-family:'Liberation Serif','DejaVu Serif',serif;color:#6a8fa0;letter-spacing:-.3px">7</span><span class="t" style="left:585.8px;top:608.44px;font-size:11.3px;line-height:11.3px;font-family:'Liberation Serif','DejaVu Serif',serif;color:#6a8fa0;letter-spacing:-.2px">W</span><span class="t" style="left:571.7px;top:630.64px;font-size:11.3px;line-height:11.3px;font-family:'Liberation Serif','DejaVu Serif',serif;color:#6a8fa0;letter-spacing:-.3px">8</span><span class="t" style="left:585.8px;top:630.64px;font-size:11.3px;line-height:11.3px;font-family:'Liberation Serif','DejaVu Serif',serif;color:#6a8fa0;letter-spacing:-.2px">T</span><span class="t" style="left:571.7px;top:652.84px;font-size:11.3px;line-height:11.3px;font-family:'Liberation Serif','DejaVu Serif',serif;color:#6a8fa0;letter-spacing:-.3px">9</span><span class="t" style="left:585.8px;top:652.84px;font-size:11.3px;line-height:11.3px;font-family:'Liberation Serif','DejaVu Serif',serif;color:#6a8fa0;letter-spacing:-.2px">F</span><div style="left:570.2px;top:671.3px;width:158.8px;height:18.6px;background:#f2f0f0"></div><span class="t" style="left:571.7px;top:675.04px;font-size:11.3px;line-height:11.3px;font-family:'Liberation Serif','DejaVu Serif',serif;color:#8e8e8e;letter-spacing:-.3px">10</span><span class="t" style="left:585.8px;top:675.04px;font-size:11.3px;line-height:11.3px;font-family:'Liberation Serif','DejaVu Serif',serif;color:#8e8e8e;letter-spacing:-.2px">Sa</span><div style="left:570.2px;top:693.5px;width:158.8px;height:18.6px;background:#f2f0f0"></div><span class="t" style="left:571.7px;top:697.24px;font-size:11.3px;line-height:11.3px;font-family:'Liberation Serif','DejaVu Serif',serif;color:#8e8e8e;letter-spacing:-.3px">11</span><span class="t" style="left:585.8px;top:697.24px;font-size:11.3px;line-height:11.3px;font-family:'Liberation Serif','DejaVu Serif',serif;color:#8e8e8e;letter-spacing:-.2px">Su</span><span class="t" style="left:571.7px;top:719.44px;font-size:11.3px;line-height:11.3px;font-family:'Liberation Serif','DejaVu Serif',serif;color:#6a8fa0;letter-spacing:-.3px">12</span><span class="t" style="left:585.8px;top:719.44px;font-size:11.3px;line-height:11.3px;font-family:'Liberation Serif','DejaVu Serif',serif;color:#6a8fa0;letter-spacing:-.2px">M</span><span class="t" style="left:571.7px;top:741.64px;font-size:11.3px;line-height:11.3px;font-family:'Liberation Serif','DejaVu Serif',serif;color:#6a8fa0;letter-spacing:-.3px">13</span><span class="t" style="left:585.8px;top:741.64px;font-size:11.3px;line-height:11.3px;font-family:'Liberation Serif','DejaVu Serif',serif;color:#6a8fa0;letter-spacing:-.2px">T</span><span class="t" style="left:571.7px;top:763.84px;font-size:11.3px;line-height:11.3px;font-family:'Liberation Serif','DejaVu Serif',serif;color:#6a8fa0;letter-spacing:-.3px">14</span><span class="t" style="left:585.8px;top:763.84px;font-size:11.3px;line-height:11.3px;font-family:'Liberation Serif','DejaVu Serif',serif;color:#6a8fa0;letter-spacing:-.2px">W</span><span class="t" style="left:571.7px;top:786.04px;font-size:11.3px;line-height:11.3px;font-family:'Liberation Serif','DejaVu Serif',serif;color:#6a8fa0;letter-spacing:-.3px">15</span><span class="t" style="left:585.8px;top:786.04px;font-size:11.3px;line-height:11.3px;font-family:'Liberation Serif','DejaVu Serif',serif;color:#6a8fa0;letter-spacing:-.2px">T</span><span class="t" style="left:571.7px;top:808.24px;font-size:11.3px;line-height:11.3px;font-family:'Liberation Serif','DejaVu Serif',serif;color:#6a8fa0;letter-spacing:-.3px">16</span><span class="t" style="left:585.8px;top:808.24px;font-size:11.3px;line-height:11.3px;font-family:'Liberation Serif','DejaVu Serif',serif;color:#6a8fa0;letter-spacing:-.2px">F</span><div style="left:570.2px;top:826.7px;width:158.8px;height:18.6px;background:#f2f0f0"></div><span class="t" style="left:571.7px;top:830.44px;font-size:11.3px;line-height:11.3px;font-family:'Liberation Serif','DejaVu Serif',serif;color:#8e8e8e;letter-spacing:-.3px">17</span><span class="t" style="left:585.8px;top:830.44px;font-size:11.3px;line-height:11.3px;font-family:'Liberation Serif','DejaVu Serif',serif;color:#8e8e8e;letter-spacing:-.2px">Sa</span><div style="left:570.2px;top:848.9px;width:158.8px;height:18.6px;background:#f2f0f0"></div><span class="t" style="left:571.7px;top:852.64px;font-size:11.3px;line-height:11.3px;font-family:'Liberation Serif','DejaVu Serif',serif;color:#8e8e8e;letter-spacing:-.3px">18</span><span class="t" style="left:585.8px;top:852.64px;font-size:11.3px;line-height:11.3px;font-family:'Liberation Serif','DejaVu Serif',serif;color:#8e8e8e;letter-spacing:-.2px">Su</span><span class="t" style="left:571.7px;top:874.84px;font-size:11.3px;line-height:11.3px;font-family:'Liberation Serif','DejaVu Serif',serif;color:#6a8fa0;letter-spacing:-.3px">19</span><span class="t" style="left:585.8px;top:874.84px;font-size:11.3px;line-height:11.3px;font-family:'Liberation Serif','DejaVu Serif',serif;color:#6a8fa0;letter-spacing:-.2px">M</span><span class="t" style="left:571.7px;top:897.04px;font-size:11.3px;line-height:11.3px;font-family:'Liberation Serif','DejaVu Serif',serif;color:#6a8fa0;letter-spacing:-.3px">20</span><span class="t" style="left:585.8px;top:897.04px;font-size:11.3px;line-height:11.3px;font-family:'Liberation Serif','DejaVu Serif',serif;color:#6a8fa0;letter-spacing:-.2px">T</span><span class="t" style="left:571.7px;top:919.24px;font-size:11.3px;line-height:11.3px;font-family:'Liberation Serif','DejaVu Serif',serif;color:#6a8fa0;letter-spacing:-.3px">21</span><span class="t" style="left:585.8px;top:919.24px;font-size:11.3px;line-height:11.3px;font-family:'Liberation Serif','DejaVu Serif',serif;color:#6a8fa0;letter-spacing:-.2px">W</span><span class="t" style="left:571.7px;top:941.44px;font-size:11.3px;line-height:11.3px;font-family:'Liberation Serif','DejaVu Serif',serif;color:#6a8fa0;letter-spacing:-.3px">22</span><span class="t" style="left:585.8px;top:941.44px;font-size:11.3px;line-height:11.3px;font-family:'Liberation Serif','DejaVu Serif',serif;color:#6a8fa0;letter-spacing:-.2px">T</span><span class="t" style="left:571.7px;top:963.64px;font-size:11.3px;line-height:11.3px;font-family:'Liberation Serif','DejaVu Serif',serif;color:#6a8fa0;letter-spacing:-.3px">23</span><span class="t" style="left:585.8px;top:963.64px;font-size:11.3px;line-height:11.3px;font-family:'Liberation Serif','DejaVu Serif',serif;color:#6a8fa0;letter-spacing:-.2px">F</span><div style="left:570.2px;top:982.1px;width:158.8px;height:18.6px;background:#f2f0f0"></div><span class="t" style="left:571.7px;top:985.84px;font-size:11.3px;line-height:11.3px;font-family:'Liberation Serif','DejaVu Serif',serif;color:#8e8e8e;letter-spacing:-.3px">24</span><span class="t" style="left:585.8px;top:985.84px;font-size:11.3px;line-height:11.3px;font-family:'Liberation Serif','DejaVu Serif',serif;color:#8e8e8e;letter-spacing:-.2px">Sa</span><div style="left:570.2px;top:1004.3px;width:158.8px;height:18.6px;background:#f2f0f0"></div><span class="t" style="left:571.7px;top:1008.04px;font-size:11.3px;line-height:11.3px;font-family:'Liberation Serif','DejaVu Serif',serif;color:#8e8e8e;letter-spacing:-.3px">25</span><span class="t" style="left:585.8px;top:1008.04px;font-size:11.3px;line-height:11.3px;font-family:'Liberation Serif','DejaVu Serif',serif;color:#8e8e8e;letter-spacing:-.2px">Su</span><span class="t" style="left:571.7px;top:1030.24px;font-size:11.3px;line-height:11.3px;font-family:'Liberation Serif','DejaVu Serif',serif;color:#6a8fa0;letter-spacing:-.3px">26</span><span class="t" style="left:585.8px;top:1030.24px;font-size:11.3px;line-height:11.3px;font-family:'Liberation Serif','DejaVu Serif',serif;color:#6a8fa0;letter-spacing:-.2px">M</span><span class="t" style="left:571.7px;top:1052.44px;font-size:11.3px;line-height:11.3px;font-family:'Liberation Serif','DejaVu Serif',serif;color:#6a8fa0;letter-spacing:-.3px">27</span><span class="t" style="left:585.8px;top:1052.44px;font-size:11.3px;line-height:11.3px;font-family:'Liberation Serif','DejaVu Serif',serif;color:#6a8fa0;letter-spacing:-.2px">T</span><span class="t" style="left:571.7px;top:1074.64px;font-size:11.3px;line-height:11.3px;font-family:'Liberation Serif','DejaVu Serif',serif;color:#6a8fa0;letter-spacing:-.3px">28</span><span class="t" style="left:585.8px;top:1074.64px;font-size:11.3px;line-height:11.3px;font-family:'Liberation Serif','DejaVu Serif',serif;color:#6a8fa0;letter-spacing:-.2px">W</span><span class="t" style="left:571.7px;top:1096.84px;font-size:11.3px;line-height:11.3px;font-family:'Liberation Serif','DejaVu Serif',serif;color:#6a8fa0;letter-spacing:-.3px">29</span><span class="t" style="left:585.8px;top:1096.84px;font-size:11.3px;line-height:11.3px;font-family:'Liberation Serif','DejaVu Serif',serif;color:#6a8fa0;letter-spacing:-.2px">T</span><span class="t" style="left:571.7px;top:1119.04px;font-size:11.3px;line-height:11.3px;font-family:'Liberation Serif','DejaVu Serif',serif;color:#6a8fa0;letter-spacing:-.3px">30</span><span class="t" style="left:585.8px;top:1119.04px;font-size:11.3px;line-height:11.3px;font-family:'Liberation Serif','DejaVu Serif',serif;color:#6a8fa0;letter-spacing:-.2px">F</span><div style="left:570.2px;top:1137.5px;width:158.8px;height:18.6px;background:#f2f0f0"></div><span class="t" style="left:571.7px;top:1141.24px;font-size:11.3px;line-height:11.3px;font-family:'Liberation Serif','DejaVu Serif',serif;color:#8e8e8e;letter-spacing:-.3px">31</span><span class="t" style="left:585.8px;top:1141.24px;font-size:11.3px;line-height:11.3px;font-family:'Liberation Serif','DejaVu Serif',serif;color:#8e8e8e;letter-spacing:-.2px">Sa</span><div style="left:737.0px;top:448.0px;width:158.8px;height:21.0px;background:#428cad;border-radius:4px"></div><span class="t" style="left:816.4px;top:452.68px;font-size:12.3px;line-height:12.3px;font-family:'Liberation Serif','DejaVu Serif',serif;transform:translateX(-50%);font-weight:bold;color:#fff">November</span><div style="left:737.0px;top:471.5px;width:158.8px;height:18.6px;background:#f2f0f0"></div><span class="t" style="left:738.5px;top:475.24px;font-size:11.3px;line-height:11.3px;font-family:'Liberation Serif','DejaVu Serif',serif;color:#8e8e8e;letter-spacing:-.3px">1</span><span class="t" style="left:752.6px;top:475.24px;font-size:11.3px;line-height:11.3px;font-family:'Liberation Serif','DejaVu Serif',serif;color:#8e8e8e;letter-spacing:-.2px">Su</span><span class="t" style="left:738.5px;top:497.44px;font-size:11.3px;line-height:11.3px;font-family:'Liberation Serif','DejaVu Serif',serif;color:#6a8fa0;letter-spacing:-.3px">2</span><span class="t" style="left:752.6px;top:497.44px;font-size:11.3px;line-height:11.3px;font-family:'Liberation Serif','DejaVu Serif',serif;color:#6a8fa0;letter-spacing:-.2px">M</span><span class="t" style="left:738.5px;top:519.64px;font-size:11.3px;line-height:11.3px;font-family:'Liberation Serif','DejaVu Serif',serif;color:#6a8fa0;letter-spacing:-.3px">3</span><span class="t" style="left:752.6px;top:519.64px;font-size:11.3px;line-height:11.3px;font-family:'Liberation Serif','DejaVu Serif',serif;color:#6a8fa0;letter-spacing:-.2px">T</span><span class="t" style="left:738.5px;top:541.84px;font-size:11.3px;line-height:11.3px;font-family:'Liberation Serif','DejaVu Serif',serif;color:#6a8fa0;letter-spacing:-.3px">4</span><span class="t" style="left:752.6px;top:541.84px;font-size:11.3px;line-height:11.3px;font-family:'Liberation Serif','DejaVu Serif',serif;color:#6a8fa0;letter-spacing:-.2px">W</span><span class="t" style="left:738.5px;top:564.04px;font-size:11.3px;line-height:11.3px;font-family:'Liberation Serif','DejaVu Serif',serif;color:#6a8fa0;letter-spacing:-.3px">5</span><span class="t" style="left:752.6px;top:564.04px;font-size:11.3px;line-height:11.3px;font-family:'Liberation Serif','DejaVu Serif',serif;color:#6a8fa0;letter-spacing:-.2px">T</span><span class="t" style="left:738.5px;top:586.24px;font-size:11.3px;line-height:11.3px;font-family:'Liberation Serif','DejaVu Serif',serif;color:#6a8fa0;letter-spacing:-.3px">6</span><span class="t" style="left:752.6px;top:586.24px;font-size:11.3px;line-height:11.3px;font-family:'Liberation Serif','DejaVu Serif',serif;color:#6a8fa0;letter-spacing:-.2px">F</span><div style="left:737.0px;top:604.7px;width:158.8px;height:18.6px;background:#f2f0f0"></div><span class="t" style="left:738.5px;top:608.44px;font-size:11.3px;line-height:11.3px;font-family:'Liberation Serif','DejaVu Serif',serif;color:#8e8e8e;letter-spacing:-.3px">7</span><span class="t" style="left:752.6px;top:608.44px;font-size:11.3px;line-height:11.3px;font-family:'Liberation Serif','DejaVu Serif',serif;color:#8e8e8e;letter-spacing:-.2px">Sa</span><div style="left:737.0px;top:626.9px;width:158.8px;height:18.6px;background:#f2f0f0"></div><span class="t" style="left:738.5px;top:630.64px;font-size:11.3px;line-height:11.3px;font-family:'Liberation Serif','DejaVu Serif',serif;color:#8e8e8e;letter-spacing:-.3px">8</span><span class="t" style="left:752.6px;top:630.64px;font-size:11.3px;line-height:11.3px;font-family:'Liberation Serif','DejaVu Serif',serif;color:#8e8e8e;letter-spacing:-.2px">Su</span><span class="t" style="left:738.5px;top:652.84px;font-size:11.3px;line-height:11.3px;font-family:'Liberation Serif','DejaVu Serif',serif;color:#6a8fa0;letter-spacing:-.3px">9</span><span class="t" style="left:752.6px;top:652.84px;font-size:11.3px;line-height:11.3px;font-family:'Liberation Serif','DejaVu Serif',serif;color:#6a8fa0;letter-spacing:-.2px">M</span><span class="t" style="left:738.5px;top:675.04px;font-size:11.3px;line-height:11.3px;font-family:'Liberation Serif','DejaVu Serif',serif;color:#6a8fa0;letter-spacing:-.3px">10</span><span class="t" style="left:752.6px;top:675.04px;font-size:11.3px;line-height:11.3px;font-family:'Liberation Serif','DejaVu Serif',serif;color:#6a8fa0;letter-spacing:-.2px">T</span><span class="t" style="left:738.5px;top:697.24px;font-size:11.3px;line-height:11.3px;font-family:'Liberation Serif','DejaVu Serif',serif;color:#6a8fa0;letter-spacing:-.3px">11</span><span class="t" style="left:752.6px;top:697.24px;font-size:11.3px;line-height:11.3px;font-family:'Liberation Serif','DejaVu Serif',serif;color:#6a8fa0;letter-spacing:-.2px">W</span><span class="t" style="left:738.5px;top:719.44px;font-size:11.3px;line-height:11.3px;font-family:'Liberation Serif','DejaVu Serif',serif;color:#6a8fa0;letter-spacing:-.3px">12</span><span class="t" style="left:752.6px;top:719.44px;font-size:11.3px;line-height:11.3px;font-family:'Liberation Serif','DejaVu Serif',serif;color:#6a8fa0;letter-spacing:-.2px">T</span><span class="t" style="left:738.5px;top:741.64px;font-size:11.3px;line-height:11.3px;font-family:'Liberation Serif','DejaVu Serif',serif;color:#6a8fa0;letter-spacing:-.3px">13</span><span class="t" style="left:752.6px;top:741.64px;font-size:11.3px;line-height:11.3px;font-family:'Liberation Serif','DejaVu Serif',serif;color:#6a8fa0;letter-spacing:-.2px">F</span><div style="left:737.0px;top:760.1px;width:158.8px;height:18.6px;background:#f2f0f0"></div><span class="t" style="left:738.5px;top:763.84px;font-size:11.3px;line-height:11.3px;font-family:'Liberation Serif','DejaVu Serif',serif;color:#8e8e8e;letter-spacing:-.3px">14</span><span class="t" style="left:752.6px;top:763.84px;font-size:11.3px;line-height:11.3px;font-family:'Liberation Serif','DejaVu Serif',serif;color:#8e8e8e;letter-spacing:-.2px">Sa</span><div style="left:737.0px;top:782.3px;width:158.8px;height:18.6px;background:#f2f0f0"></div><span class="t" style="left:738.5px;top:786.04px;font-size:11.3px;line-height:11.3px;font-family:'Liberation Serif','DejaVu Serif',serif;color:#8e8e8e;letter-spacing:-.3px">15</span><span class="t" style="left:752.6px;top:786.04px;font-size:11.3px;line-height:11.3px;font-family:'Liberation Serif','DejaVu Serif',serif;color:#8e8e8e;letter-spacing:-.2px">Su</span><span class="t" style="left:738.5px;top:808.24px;font-size:11.3px;line-height:11.3px;font-family:'Liberation Serif','DejaVu Serif',serif;color:#6a8fa0;letter-spacing:-.3px">16</span><span class="t" style="left:752.6px;top:808.24px;font-size:11.3px;line-height:11.3px;font-family:'Liberation Serif','DejaVu Serif',serif;color:#6a8fa0;letter-spacing:-.2px">M</span><span class="t" style="left:738.5px;top:830.44px;font-size:11.3px;line-height:11.3px;font-family:'Liberation Serif','DejaVu Serif',serif;color:#6a8fa0;letter-spacing:-.3px">17</span><span class="t" style="left:752.6px;top:830.44px;font-size:11.3px;line-height:11.3px;font-family:'Liberation Serif','DejaVu Serif',serif;color:#6a8fa0;letter-spacing:-.2px">T</span><span class="t" style="left:738.5px;top:852.64px;font-size:11.3px;line-height:11.3px;font-family:'Liberation Serif','DejaVu Serif',serif;color:#6a8fa0;letter-spacing:-.3px">18</span><span class="t" style="left:752.6px;top:852.64px;font-size:11.3px;line-height:11.3px;font-family:'Liberation Serif','DejaVu Serif',serif;color:#6a8fa0;letter-spacing:-.2px">W</span><span class="t" style="left:738.5px;top:874.84px;font-size:11.3px;line-height:11.3px;font-family:'Liberation Serif','DejaVu Serif',serif;color:#6a8fa0;letter-spacing:-.3px">19</span><span class="t" style="left:752.6px;top:874.84px;font-size:11.3px;line-height:11.3px;font-family:'Liberation Serif','DejaVu Serif',serif;color:#6a8fa0;letter-spacing:-.2px">T</span><span class="t" style="left:738.5px;top:897.04px;font-size:11.3px;line-height:11.3px;font-family:'Liberation Serif','DejaVu Serif',serif;color:#6a8fa0;letter-spacing:-.3px">20</span><span class="t" style="left:752.6px;top:897.04px;font-size:11.3px;line-height:11.3px;font-family:'Liberation Serif','DejaVu Serif',serif;color:#6a8fa0;letter-spacing:-.2px">F</span><div style="left:737.0px;top:915.5px;width:158.8px;height:18.6px;background:#f2f0f0"></div><span class="t" style="left:738.5px;top:919.24px;font-size:11.3px;line-height:11.3px;font-family:'Liberation Serif','DejaVu Serif',serif;color:#8e8e8e;letter-spacing:-.3px">21</span><span class="t" style="left:752.6px;top:919.24px;font-size:11.3px;line-height:11.3px;font-family:'Liberation Serif','DejaVu Serif',serif;color:#8e8e8e;letter-spacing:-.2px">Sa</span><div style="left:737.0px;top:937.7px;width:158.8px;height:18.6px;background:#f2f0f0"></div><span class="t" style="left:738.5px;top:941.44px;font-size:11.3px;line-height:11.3px;font-family:'Liberation Serif','DejaVu Serif',serif;color:#8e8e8e;letter-spacing:-.3px">22</span><span class="t" style="left:752.6px;top:941.44px;font-size:11.3px;line-height:11.3px;font-family:'Liberation Serif','DejaVu Serif',serif;color:#8e8e8e;letter-spacing:-.2px">Su</span><span class="t" style="left:738.5px;top:963.64px;font-size:11.3px;line-height:11.3px;font-family:'Liberation Serif','DejaVu Serif',serif;color:#6a8fa0;letter-spacing:-.3px">23</span><span class="t" style="left:752.6px;top:963.64px;font-size:11.3px;line-height:11.3px;font-family:'Liberation Serif','DejaVu Serif',serif;color:#6a8fa0;letter-spacing:-.2px">M</span><span class="t" style="left:738.5px;top:985.84px;font-size:11.3px;line-height:11.3px;font-family:'Liberation Serif','DejaVu Serif',serif;color:#6a8fa0;letter-spacing:-.3px">24</span><span class="t" style="left:752.6px;top:985.84px;font-size:11.3px;line-height:11.3px;font-family:'Liberation Serif','DejaVu Serif',serif;color:#6a8fa0;letter-spacing:-.2px">T</span><span class="t" style="left:738.5px;top:1008.04px;font-size:11.3px;line-height:11.3px;font-family:'Liberation Serif','DejaVu Serif',serif;color:#6a8fa0;letter-spacing:-.3px">25</span><span class="t" style="left:752.6px;top:1008.04px;font-size:11.3px;line-height:11.3px;font-family:'Liberation Serif','DejaVu Serif',serif;color:#6a8fa0;letter-spacing:-.2px">W</span><span class="t" style="left:738.5px;top:1030.24px;font-size:11.3px;line-height:11.3px;font-family:'Liberation Serif','DejaVu Serif',serif;color:#6a8fa0;letter-spacing:-.3px">26</span><span class="t" style="left:752.6px;top:1030.24px;font-size:11.3px;line-height:11.3px;font-family:'Liberation Serif','DejaVu Serif',serif;color:#6a8fa0;letter-spacing:-.2px">T</span><span class="t" style="left:738.5px;top:1052.44px;font-size:11.3px;line-height:11.3px;font-family:'Liberation Serif','DejaVu Serif',serif;color:#6a8fa0;letter-spacing:-.3px">27</span><span class="t" style="left:752.6px;top:1052.44px;font-size:11.3px;line-height:11.3px;font-family:'Liberation Serif','DejaVu Serif',serif;color:#6a8fa0;letter-spacing:-.2px">F</span><div style="left:737.0px;top:1070.9px;width:158.8px;height:18.6px;background:#f2f0f0"></div><span class="t" style="left:738.5px;top:1074.64px;font-size:11.3px;line-height:11.3px;font-family:'Liberation Serif','DejaVu Serif',serif;color:#8e8e8e;letter-spacing:-.3px">28</span><span class="t" style="left:752.6px;top:1074.64px;font-size:11.3px;line-height:11.3px;font-family:'Liberation Serif','DejaVu Serif',serif;color:#8e8e8e;letter-spacing:-.2px">Sa</span><div style="left:737.0px;top:1093.1px;width:158.8px;height:18.6px;background:#f2f0f0"></div><span class="t" style="left:738.5px;top:1096.84px;font-size:11.3px;line-height:11.3px;font-family:'Liberation Serif','DejaVu Serif',serif;color:#8e8e8e;letter-spacing:-.3px">29</span><span class="t" style="left:752.6px;top:1096.84px;font-size:11.3px;line-height:11.3px;font-family:'Liberation Serif','DejaVu Serif',serif;color:#8e8e8e;letter-spacing:-.2px">Su</span><span class="t" style="left:738.5px;top:1119.04px;font-size:11.3px;line-height:11.3px;font-family:'Liberation Serif','DejaVu Serif',serif;color:#6a8fa0;letter-spacing:-.3px">30</span><span class="t" style="left:752.6px;top:1119.04px;font-size:11.3px;line-height:11.3px;font-family:'Liberation Serif','DejaVu Serif',serif;color:#6a8fa0;letter-spacing:-.2px">M</span><div style="left:903.7px;top:448.0px;width:159.1px;height:21.0px;background:#428cad;border-radius:4px"></div><span class="t" style="left:983.2px;top:452.68px;font-size:12.3px;line-height:12.3px;font-family:'Liberation Serif','DejaVu Serif',serif;transform:translateX(-50%);font-weight:bold;color:#fff">December</span><span class="t" style="left:905.2px;top:475.24px;font-size:11.3px;line-height:11.3px;font-family:'Liberation Serif','DejaVu Serif',serif;color:#6a8fa0;letter-spacing:-.3px">1</span><span class="t" style="left:919.3px;top:475.24px;font-size:11.3px;line-height:11.3px;font-family:'Liberation Serif','DejaVu Serif',serif;color:#6a8fa0;letter-spacing:-.2px">T</span><span class="t" style="left:905.2px;top:497.44px;font-size:11.3px;line-height:11.3px;font-family:'Liberation Serif','DejaVu Serif',serif;color:#6a8fa0;letter-spacing:-.3px">2</span><span class="t" style="left:919.3px;top:497.44px;font-size:11.3px;line-height:11.3px;font-family:'Liberation Serif','DejaVu Serif',serif;color:#6a8fa0;letter-spacing:-.2px">W</span><span class="t" style="left:905.2px;top:519.64px;font-size:11.3px;line-height:11.3px;font-family:'Liberation Serif','DejaVu Serif',serif;color:#6a8fa0;letter-spacing:-.3px">3</span><span class="t" style="left:919.3px;top:519.64px;font-size:11.3px;line-height:11.3px;font-family:'Liberation Serif','DejaVu Serif',serif;color:#6a8fa0;letter-spacing:-.2px">T</span><span class="t" style="left:905.2px;top:541.84px;font-size:11.3px;line-height:11.3px;font-family:'Liberation Serif','DejaVu Serif',serif;color:#6a8fa0;letter-spacing:-.3px">4</span><span class="t" style="left:919.3px;top:541.84px;font-size:11.3px;line-height:11.3px;font-family:'Liberation Serif','DejaVu Serif',serif;color:#6a8fa0;letter-spacing:-.2px">F</span><div style="left:903.7px;top:560.3px;width:159.1px;height:18.6px;background:#f2f0f0"></div><span class="t" style="left:905.2px;top:564.04px;font-size:11.3px;line-height:11.3px;font-family:'Liberation Serif','DejaVu Serif',serif;color:#8e8e8e;letter-spacing:-.3px">5</span><span class="t" style="left:919.3px;top:564.04px;font-size:11.3px;line-height:11.3px;font-family:'Liberation Serif','DejaVu Serif',serif;color:#8e8e8e;letter-spacing:-.2px">Sa</span><div style="left:903.7px;top:582.5px;width:159.1px;height:18.6px;background:#f2f0f0"></div><span class="t" style="left:905.2px;top:586.24px;font-size:11.3px;line-height:11.3px;font-family:'Liberation Serif','DejaVu Serif',serif;color:#8e8e8e;letter-spacing:-.3px">6</span><span class="t" style="left:919.3px;top:586.24px;font-size:11.3px;line-height:11.3px;font-family:'Liberation Serif','DejaVu Serif',serif;color:#8e8e8e;letter-spacing:-.2px">Su</span><span class="t" style="left:905.2px;top:608.44px;font-size:11.3px;line-height:11.3px;font-family:'Liberation Serif','DejaVu Serif',serif;color:#6a8fa0;letter-spacing:-.3px">7</span><span class="t" style="left:919.3px;top:608.44px;font-size:11.3px;line-height:11.3px;font-family:'Liberation Serif','DejaVu Serif',serif;color:#6a8fa0;letter-spacing:-.2px">M</span><span class="t" style="left:905.2px;top:630.64px;font-size:11.3px;line-height:11.3px;font-family:'Liberation Serif','DejaVu Serif',serif;color:#6a8fa0;letter-spacing:-.3px">8</span><span class="t" style="left:919.3px;top:630.64px;font-size:11.3px;line-height:11.3px;font-family:'Liberation Serif','DejaVu Serif',serif;color:#6a8fa0;letter-spacing:-.2px">T</span><span class="t" style="left:905.2px;top:652.84px;font-size:11.3px;line-height:11.3px;font-family:'Liberation Serif','DejaVu Serif',serif;color:#6a8fa0;letter-spacing:-.3px">9</span><span class="t" style="left:919.3px;top:652.84px;font-size:11.3px;line-height:11.3px;font-family:'Liberation Serif','DejaVu Serif',serif;color:#6a8fa0;letter-spacing:-.2px">W</span><span class="t" style="left:905.2px;top:675.04px;font-size:11.3px;line-height:11.3px;font-family:'Liberation Serif','DejaVu Serif',serif;color:#6a8fa0;letter-spacing:-.3px">10</span><span class="t" style="left:919.3px;top:675.04px;font-size:11.3px;line-height:11.3px;font-family:'Liberation Serif','DejaVu Serif',serif;color:#6a8fa0;letter-spacing:-.2px">T</span><span class="t" style="left:905.2px;top:697.24px;font-size:11.3px;line-height:11.3px;font-family:'Liberation Serif','DejaVu Serif',serif;color:#6a8fa0;letter-spacing:-.3px">11</span><span class="t" style="left:919.3px;top:697.24px;font-size:11.3px;line-height:11.3px;font-family:'Liberation Serif','DejaVu Serif',serif;color:#6a8fa0;letter-spacing:-.2px">F</span><div style="left:903.7px;top:715.7px;width:159.1px;height:18.6px;background:#f2f0f0"></div><span class="t" style="left:905.2px;top:719.44px;font-size:11.3px;line-height:11.3px;font-family:'Liberation Serif','DejaVu Serif',serif;color:#8e8e8e;letter-spacing:-.3px">12</span><span class="t" style="left:919.3px;top:719.44px;font-size:11.3px;line-height:11.3px;font-family:'Liberation Serif','DejaVu Serif',serif;color:#8e8e8e;letter-spacing:-.2px">Sa</span><div style="left:903.7px;top:737.9px;width:159.1px;height:18.6px;background:#f2f0f0"></div><span class="t" style="left:905.2px;top:741.64px;font-size:11.3px;line-height:11.3px;font-family:'Liberation Serif','DejaVu Serif',serif;color:#8e8e8e;letter-spacing:-.3px">13</span><span class="t" style="left:919.3px;top:741.64px;font-size:11.3px;line-height:11.3px;font-family:'Liberation Serif','DejaVu Serif',serif;color:#8e8e8e;letter-spacing:-.2px">Su</span><span class="t" style="left:905.2px;top:763.84px;font-size:11.3px;line-height:11.3px;font-family:'Liberation Serif','DejaVu Serif',serif;color:#6a8fa0;letter-spacing:-.3px">14</span><span class="t" style="left:919.3px;top:763.84px;font-size:11.3px;line-height:11.3px;font-family:'Liberation Serif','DejaVu Serif',serif;color:#6a8fa0;letter-spacing:-.2px">M</span><span class="t" style="left:905.2px;top:786.04px;font-size:11.3px;line-height:11.3px;font-family:'Liberation Serif','DejaVu Serif',serif;color:#6a8fa0;letter-spacing:-.3px">15</span><span class="t" style="left:919.3px;top:786.04px;font-size:11.3px;line-height:11.3px;font-family:'Liberation Serif','DejaVu Serif',serif;color:#6a8fa0;letter-spacing:-.2px">T</span><span class="t" style="left:905.2px;top:808.24px;font-size:11.3px;line-height:11.3px;font-family:'Liberation Serif','DejaVu Serif',serif;color:#6a8fa0;letter-spacing:-.3px">16</span><span class="t" style="left:919.3px;top:808.24px;font-size:11.3px;line-height:11.3px;font-family:'Liberation Serif','DejaVu Serif',serif;color:#6a8fa0;letter-spacing:-.2px">W</span><span class="t" style="left:905.2px;top:830.44px;font-size:11.3px;line-height:11.3px;font-family:'Liberation Serif','DejaVu Serif',serif;color:#6a8fa0;letter-spacing:-.3px">17</span><span class="t" style="left:919.3px;top:830.44px;font-size:11.3px;line-height:11.3px;font-family:'Liberation Serif','DejaVu Serif',serif;color:#6a8fa0;letter-spacing:-.2px">T</span><span class="t" style="left:905.2px;top:852.64px;font-size:11.3px;line-height:11.3px;font-family:'Liberation Serif','DejaVu Serif',serif;color:#6a8fa0;letter-spacing:-.3px">18</span><span class="t" style="left:919.3px;top:852.64px;font-size:11.3px;line-height:11.3px;font-family:'Liberation Serif','DejaVu Serif',serif;color:#6a8fa0;letter-spacing:-.2px">F</span><div style="left:903.7px;top:871.1px;width:159.1px;height:18.6px;background:#f2f0f0"></div><span class="t" style="left:905.2px;top:874.84px;font-size:11.3px;line-height:11.3px;font-family:'Liberation Serif','DejaVu Serif',serif;color:#8e8e8e;letter-spacing:-.3px">19</span><span class="t" style="left:919.3px;top:874.84px;font-size:11.3px;line-height:11.3px;font-family:'Liberation Serif','DejaVu Serif',serif;color:#8e8e8e;letter-spacing:-.2px">Sa</span><div style="left:903.7px;top:893.3px;width:159.1px;height:18.6px;background:#f2f0f0"></div><span class="t" style="left:905.2px;top:897.04px;font-size:11.3px;line-height:11.3px;font-family:'Liberation Serif','DejaVu Serif',serif;color:#8e8e8e;letter-spacing:-.3px">20</span><span class="t" style="left:919.3px;top:897.04px;font-size:11.3px;line-height:11.3px;font-family:'Liberation Serif','DejaVu Serif',serif;color:#8e8e8e;letter-spacing:-.2px">Su</span><span class="t" style="left:905.2px;top:919.24px;font-size:11.3px;line-height:11.3px;font-family:'Liberation Serif','DejaVu Serif',serif;color:#6a8fa0;letter-spacing:-.3px">21</span><span class="t" style="left:919.3px;top:919.24px;font-size:11.3px;line-height:11.3px;font-family:'Liberation Serif','DejaVu Serif',serif;color:#6a8fa0;letter-spacing:-.2px">M</span><span class="t" style="left:905.2px;top:941.44px;font-size:11.3px;line-height:11.3px;font-family:'Liberation Serif','DejaVu Serif',serif;color:#6a8fa0;letter-spacing:-.3px">22</span><span class="t" style="left:919.3px;top:941.44px;font-size:11.3px;line-height:11.3px;font-family:'Liberation Serif','DejaVu Serif',serif;color:#6a8fa0;letter-spacing:-.2px">T</span><span class="t" style="left:905.2px;top:963.64px;font-size:11.3px;line-height:11.3px;font-family:'Liberation Serif','DejaVu Serif',serif;color:#6a8fa0;letter-spacing:-.3px">23</span><span class="t" style="left:919.3px;top:963.64px;font-size:11.3px;line-height:11.3px;font-family:'Liberation Serif','DejaVu Serif',serif;color:#6a8fa0;letter-spacing:-.2px">W</span><span class="t" style="left:905.2px;top:985.84px;font-size:11.3px;line-height:11.3px;font-family:'Liberation Serif','DejaVu Serif',serif;color:#6a8fa0;letter-spacing:-.3px">24</span><span class="t" style="left:919.3px;top:985.84px;font-size:11.3px;line-height:11.3px;font-family:'Liberation Serif','DejaVu Serif',serif;color:#6a8fa0;letter-spacing:-.2px">T</span><span class="t" style="left:905.2px;top:1008.04px;font-size:11.3px;line-height:11.3px;font-family:'Liberation Serif','DejaVu Serif',serif;color:#6a8fa0;letter-spacing:-.3px">25</span><span class="t" style="left:919.3px;top:1008.04px;font-size:11.3px;line-height:11.3px;font-family:'Liberation Serif','DejaVu Serif',serif;color:#6a8fa0;letter-spacing:-.2px">F</span><div style="left:903.7px;top:1026.5px;width:159.1px;height:18.6px;background:#f2f0f0"></div><span class="t" style="left:905.2px;top:1030.24px;font-size:11.3px;line-height:11.3px;font-family:'Liberation Serif','DejaVu Serif',serif;color:#8e8e8e;letter-spacing:-.3px">26</span><span class="t" style="left:919.3px;top:1030.24px;font-size:11.3px;line-height:11.3px;font-family:'Liberation Serif','DejaVu Serif',serif;color:#8e8e8e;letter-spacing:-.2px">Sa</span><div style="left:903.7px;top:1048.7px;width:159.1px;height:18.6px;background:#f2f0f0"></div><span class="t" style="left:905.2px;top:1052.44px;font-size:11.3px;line-height:11.3px;font-family:'Liberation Serif','DejaVu Serif',serif;color:#8e8e8e;letter-spacing:-.3px">27</span><span class="t" style="left:919.3px;top:1052.44px;font-size:11.3px;line-height:11.3px;font-family:'Liberation Serif','DejaVu Serif',serif;color:#8e8e8e;letter-spacing:-.2px">Su</span><span class="t" style="left:905.2px;top:1074.64px;font-size:11.3px;line-height:11.3px;font-family:'Liberation Serif','DejaVu Serif',serif;color:#6a8fa0;letter-spacing:-.3px">28</span><span class="t" style="left:919.3px;top:1074.64px;font-size:11.3px;line-height:11.3px;font-family:'Liberation Serif','DejaVu Serif',serif;color:#6a8fa0;letter-spacing:-.2px">M</span><span class="t" style="left:905.2px;top:1096.84px;font-size:11.3px;line-height:11.3px;font-family:'Liberation Serif','DejaVu Serif',serif;color:#6a8fa0;letter-spacing:-.3px">29</span><span class="t" style="left:919.3px;top:1096.84px;font-size:11.3px;line-height:11.3px;font-family:'Liberation Serif','DejaVu Serif',serif;color:#6a8fa0;letter-spacing:-.2px">T</span><span class="t" style="left:905.2px;top:1119.04px;font-size:11.3px;line-height:11.3px;font-family:'Liberation Serif','DejaVu Serif',serif;color:#6a8fa0;letter-spacing:-.3px">30</span><span class="t" style="left:919.3px;top:1119.04px;font-size:11.3px;line-height:11.3px;font-family:'Liberation Serif','DejaVu Serif',serif;color:#6a8fa0;letter-spacing:-.2px">W</span><span class="t" style="left:905.2px;top:1141.24px;font-size:11.3px;line-height:11.3px;font-family:'Liberation Serif','DejaVu Serif',serif;color:#6a8fa0;letter-spacing:-.3px">31</span><span class="t" style="left:919.3px;top:1141.24px;font-size:11.3px;line-height:11.3px;font-family:'Liberation Serif','DejaVu Serif',serif;color:#6a8fa0;letter-spacing:-.2px">T</span><svg width="1445" height="1445" viewBox="0 0 1445 1445" style="left:0;top:0" stroke="#c0c0c0" stroke-width="1.3" fill="none"><path d="M570.2,491.5H729"/><path d="M570.2,513.7H729"/><path d="M570.2,535.9H729"/><path d="M570.2,558.1H729"/><path d="M570.2,580.3H729"/><path d="M570.2,602.5H729"/><path d="M570.2,624.7H729"/><path d="M570.2,646.9H729"/><path d="M570.2,669.1H729"/><path d="M570.2,691.3H729"/><path d="M570.2,713.5H729"/><path d="M570.2,735.7H729"/><path d="M570.2,757.9H729"/><path d="M570.2,780.1H729"/><path d="M570.2,802.3H729"/><path d="M570.2,824.5H729"/><path d="M570.2,846.7H729"/><path d="M570.2,868.9H729"/><path d="M570.2,891.1H729"/><path d="M570.2,913.3H729"/><path d="M570.2,935.5H729"/><path d="M570.2,957.7H729"/><path d="M570.2,979.9H729"/><path d="M570.2,1002.1H729"/><path d="M570.2,1024.3H729"/><path d="M570.2,1046.5H729"/><path d="M570.2,1068.7H729"/><path d="M570.2,1090.9H729"/><path d="M570.2,1113.1H729"/><path d="M570.2,1135.3H729"/><path d="M570.2,1157.5H729"/><path d="M570.2,1161.2H729"/><path d="M737,491.5H895.8"/><path d="M737,513.7H895.8"/><path d="M737,535.9H895.8"/><path d="M737,558.1H895.8"/><path d="M737,580.3H895.8"/><path d="M737,602.5H895.8"/><path d="M737,624.7H895.8"/><path d="M737,646.9H895.8"/><path d="M737,669.1H895.8"/><path d="M737,691.3H895.8"/><path d="M737,713.5H895.8"/><path d="M737,735.7H895.8"/><path d="M737,757.9H895.8"/><path d="M737,780.1H895.8"/><path d="M737,802.3H895.8"/><path d="M737,824.5H895.8"/><path d="M737,846.7H895.8"/><path d="M737,868.9H895.8"/><path d="M737,891.1H895.8"/><path d="M737,913.3H895.8"/><path d="M737,935.5H895.8"/><path d="M737,957.7H895.8"/><path d="M737,979.9H895.8"/><path d="M737,1002.1H895.8"/><path d="M737,1024.3H895.8"/><path d="M737,1046.5H895.8"/><path d="M737,1068.7H895.8"/><path d="M737,1090.9H895.8"/><path d="M737,1113.1H895.8"/><path d="M737,1135.3H895.8"/><path d="M737,1161.2H895.8"/><path d="M903.7,491.5H1062.8"/><path d="M903.7,513.7H1062.8"/><path d="M903.7,535.9H1062.8"/><path d="M903.7,558.1H1062.8"/><path d="M903.7,580.3H1062.8"/><path d="M903.7,602.5H1062.8"/><path d="M903.7,624.7H1062.8"/><path d="M903.7,646.9H1062.8"/><path d="M903.7,669.1H1062.8"/><path d="M903.7,691.3H1062.8"/><path d="M903.7,713.5H1062.8"/><path d="M903.7,735.7H1062.8"/><path d="M903.7,757.9H1062.8"/><path d="M903.7,780.1H1062.8"/><path d="M903.7,802.3H1062.8"/><path d="M903.7,824.5H1062.8"/><path d="M903.7,846.7H1062.8"/><path d="M903.7,868.9H1062.8"/><path d="M903.7,891.1H1062.8"/><path d="M903.7,913.3H1062.8"/><path d="M903.7,935.5H1062.8"/><path d="M903.7,957.7H1062.8"/><path d="M903.7,979.9H1062.8"/><path d="M903.7,1002.1H1062.8"/><path d="M903.7,1024.3H1062.8"/><path d="M903.7,1046.5H1062.8"/><path d="M903.7,1068.7H1062.8"/><path d="M903.7,1090.9H1062.8"/><path d="M903.7,1113.1H1062.8"/><path d="M903.7,1135.3H1062.8"/><path d="M903.7,1157.5H1062.8"/><path d="M903.7,1161.2H1062.8"/></svg></div></div>
<div class="pg" style="left:610.4px;top:487.1px;width:581.0000000000001px;height:786.6px;border-radius:12px 0 0 15px"><div class="in" style="left:-610.4px;top:-487.1px;width:1445px;height:1445px"><span class="t" style="left:654.9px;top:505.18px;font-size:12.2px;line-height:12.2px;font-family:'Liberation Serif','DejaVu Serif',serif;font-weight:bold;color:#595959;letter-spacing:.3px">2026 EXPENSES</span><div style="left:654.9px;top:553.0px;width:492.4px;height:685.0px;background:#fbf7f7"></div><div style="left:654.9px;top:524.0px;width:158.5px;height:20.8px;background:#428cad;border-radius:4px"></div><span class="t" style="left:734.1px;top:528.68px;font-size:12.1px;line-height:12.1px;font-family:'Liberation Serif','DejaVu Serif',serif;transform:translateX(-50%);font-weight:bold;color:#fff">January</span><div style="left:821.7px;top:524.0px;width:158.8px;height:20.8px;background:#428cad;border-radius:4px"></div><span class="t" style="left:901.1px;top:528.68px;font-size:12.1px;line-height:12.1px;font-family:'Liberation Serif','DejaVu Serif',serif;transform:translateX(-50%);font-weight:bold;color:#fff">February</span><div style="left:988.4px;top:524.0px;width:158.9px;height:20.8px;background:#428cad;border-radius:4px"></div><span class="t" style="left:1067.8px;top:528.68px;font-size:12.1px;line-height:12.1px;font-family:'Liberation Serif','DejaVu Serif',serif;transform:translateX(-50%);font-weight:bold;color:#fff">March</span><svg width="1445" height="1445" viewBox="0 0 1445 1445" style="left:0;top:0" stroke="#b0b0b0" stroke-width="1.2" fill="none"><path d="M654.9,569.4H1147.3"/><path d="M654.9,593.2H1147.3"/><path d="M654.9,617.1H1147.3"/><path d="M654.9,641.0H1147.3"/><path d="M654.9,664.8H1147.3"/><path d="M654.9,688.6H1147.3"/><path d="M654.9,712.5H1147.3"/><path d="M654.9,736.4H1147.3"/><path d="M654.9,760.2H1147.3"/><path d="M654.9,784.0H1147.3"/><path d="M654.9,807.9H1147.3"/><path d="M654.9,831.8H1147.3"/><path d="M654.9,855.6H1147.3"/><path d="M654.9,879.5H1147.3"/><path d="M654.9,903.3H1147.3"/><path d="M654.9,927.1H1147.3"/><path d="M654.9,951.0H1147.3"/><path d="M654.9,974.9H1147.3"/><path d="M654.9,998.7H1147.3"/><path d="M654.9,1022.5H1147.3"/><path d="M654.9,1046.4H1147.3"/><path d="M654.9,1070.2H1147.3"/><path d="M654.9,1094.1H1147.3"/><path d="M654.9,1118.0H1147.3"/><path d="M654.9,1141.8H1147.3"/><path d="M654.9,1165.7H1147.3"/><path d="M654.9,1189.5H1147.3"/><path d="M654.9,1213.3H1147.3"/><path d="M654.9,1237.2H1147.3"/></svg><svg width="1445" height="1445" viewBox="0 0 1445 1445" style="left:0;top:0" fill="#0c0c0c"><circle cx="610.4" cy="1226.2" r="1.9"/><circle cx="619.7" cy="1227.1" r="1.9"/><circle cx="628.6" cy="1229.8" r="1.9"/><circle cx="636.8" cy="1234.2" r="1.9"/><circle cx="644.0" cy="1240.1" r="1.9"/><circle cx="649.9" cy="1247.3" r="1.9"/><circle cx="654.3" cy="1255.5" r="1.9"/><circle cx="657.0" cy="1264.4" r="1.9"/><circle cx="657.9" cy="1273.7" r="1.9"/></svg></div></div>
<div class="pg" style="left:694.4px;top:546px;width:580.8000000000001px;height:786.3px;border-radius:10px 0 0 15px"><div class="in" style="left:-694.4px;top:-546px;width:1445px;height:1445px"><span class="t" style="left:739.1px;top:564.22px;font-size:11.8px;line-height:11.8px;font-family:'Liberation Serif','DejaVu Serif',serif;font-weight:bold;color:#595959;letter-spacing:.2px">BIRTHDAY</span><div style="left:806.0px;top:581.8px;width:425.9px;height:118.2px;border:1.2px solid #79a9bd;border-radius:0 7px 0 0;border-bottom:none"></div><div style="left:738.7px;top:582.2px;width:73.7px;height:109.0px;background:#428cad;border-radius:7px 0 0 7px"></div><span class="t" style="left:775.3px;top:630.00px;font-size:12.3px;line-height:12.3px;font-family:'Liberation Serif','DejaVu Serif',serif;transform:translateX(-50%);font-weight:bold;color:#fff">January</span><div style="left:738.7px;top:703.2px;width:73.7px;height:109.0px;background:#428cad;border-radius:7px 0 0 7px"></div><span class="t" style="left:775.3px;top:750.95px;font-size:12.3px;line-height:12.3px;font-family:'Liberation Serif','DejaVu Serif',serif;transform:translateX(-50%);font-weight:bold;color:#fff">February</span><div style="left:738.7px;top:824.1px;width:73.7px;height:109.0px;background:#428cad;border-radius:7px 0 0 7px"></div><span class="t" style="left:775.3px;top:871.90px;font-size:12.3px;line-height:12.3px;font-family:'Liberation Serif','DejaVu Serif',serif;transform:translateX(-50%);font-weight:bold;color:#fff">March</span><div style="left:738.7px;top:945.1px;width:73.7px;height:109.0px;background:#428cad;border-radius:7px 0 0 7px"></div><span class="t" style="left:775.3px;top:992.85px;font-size:12.3px;line-height:12.3px;font-family:'Liberation Serif','DejaVu Serif',serif;transform:translateX(-50%);font-weight:bold;color:#fff">April</span><div style="left:738.7px;top:1066.0px;width:73.7px;height:109.0px;background:#428cad;border-radius:7px 0 0 7px"></div><span class="t" style="left:775.3px;top:1113.80px;font-size:12.3px;line-height:12.3px;font-family:'Liberation Serif','DejaVu Serif',serif;transform:translateX(-50%);font-weight:bold;color:#fff">May</span><div style="left:738.7px;top:1187.0px;width:73.7px;height:109.0px;background:#428cad;border-radius:7px 0 0 7px"></div><span class="t" style="left:775.3px;top:1234.75px;font-size:12.3px;line-height:12.3px;font-family:'Liberation Serif','DejaVu Serif',serif;transform:translateX(-50%);font-weight:bold;color:#fff">June</span><svg width="1445" height="1445" viewBox="0 0 1445 1445" style="left:0;top:0" stroke="#ababab" stroke-width="1" stroke-dasharray="1.3 1.3" fill="none"><path d="M818.6,604.2H959.8M966,604.2H1224.2"/></svg><svg width="1445" height="1445" viewBox="0 0 1445 1445" style="left:0;top:0" fill="#0c0c0c"><circle cx="694.4" cy="1284.8" r="1.9"/><circle cx="703.7" cy="1285.7" r="1.9"/><circle cx="712.6" cy="1288.4" r="1.9"/><circle cx="720.8" cy="1292.8" r="1.9"/><circle cx="728.0" cy="1298.7" r="1.9"/><circle cx="733.9" cy="1305.9" r="1.9"/><circle cx="738.3" cy="1314.1" r="1.9"/><circle cx="741.0" cy="1323.0" r="1.9"/><circle cx="741.9" cy="1332.3" r="1.9"/></svg></div></div>
<div class="pg" style="left:800.2px;top:606.1px;width:577.2px;height:786.6999999999999px;border-radius:0 15px 18px 0"><div class="in" style="left:-800.2px;top:-606.1px;width:1445px;height:1445px"><span class="t" style="left:1333.6px;top:624.63px;font-size:11.9px;line-height:11.9px;font-family:'Liberation Serif','DejaVu Serif',serif;transform:translateX(-100%);font-weight:bold;color:#595959;letter-spacing:.2px">TRAVEL PLANNER</span><div style="left:840.8px;top:665.0px;width:109.6px;height:691.0px;background:#fcfafa"></div><div style="left:958.7px;top:665.0px;width:374.9px;height:691.0px;background:#fcfafa"></div><div style="left:840.8px;top:642.0px;width:109.6px;height:21.6px;background:#428cad;border-radius:4px"></div><span class="t" style="left:895.6px;top:646.98px;font-size:12.3px;line-height:12.3px;font-family:'Liberation Serif','DejaVu Serif',serif;transform:translateX(-50%);font-weight:bold;color:#fff">Date</span><div style="left:958.7px;top:642.0px;width:374.9px;height:21.6px;background:#428cad;border-radius:4px"></div><span class="t" style="left:1146.2px;top:646.88px;font-size:12.5px;line-height:12.5px;font-family:'Liberation Serif','DejaVu Serif',serif;transform:translateX(-50%);font-weight:bold;color:#fff">Destination / Itinerary</span><svg width="1445" height="1445" viewBox="0 0 1445 1445" style="left:0;top:0" stroke="#c1c1c1" stroke-width="1.3" fill="none"><path d="M840.8,687.7H950.4M958.7,687.7H1333.6"/><path d="M840.8,711.6H950.4M958.7,711.6H1333.6"/><path d="M840.8,735.4H950.4M958.7,735.4H1333.6"/><path d="M840.8,759.3H950.4M958.7,759.3H1333.6"/><path d="M840.8,783.2H950.4M958.7,783.2H1333.6"/><path d="M840.8,807.1H950.4M958.7,807.1H1333.6"/><path d="M840.8,830.9H950.4M958.7,830.9H1333.6"/><path d="M840.8,854.8H950.4M958.7,854.8H1333.6"/><path d="M840.8,878.7H950.4M958.7,878.7H1333.6"/><path d="M840.8,902.5H950.4M958.7,902.5H1333.6"/><path d="M840.8,926.4H950.4M958.7,926.4H1333.6"/><path d="M840.8,950.3H950.4M958.7,950.3H1333.6"/><path d="M840.8,974.1H950.4M958.7,974.1H1333.6"/><path d="M840.8,998.0H950.4M958.7,998.0H1333.6"/><path d="M840.8,1021.9H950.4M958.7,1021.9H1333.6"/><path d="M840.8,1045.8H950.4M958.7,1045.8H1333.6"/><path d="M840.8,1069.6H950.4M958.7,1069.6H1333.6"/><path d="M840.8,1093.5H950.4M958.7,1093.5H1333.6"/><path d="M840.8,1117.4H950.4M958.7,1117.4H1333.6"/><path d="M840.8,1141.2H950.4M958.7,1141.2H1333.6"/><path d="M840.8,1165.1H950.4M958.7,1165.1H1333.6"/><path d="M840.8,1189.0H950.4M958.7,1189.0H1333.6"/><path d="M840.8,1212.8H950.4M958.7,1212.8H1333.6"/><path d="M840.8,1236.7H950.4M958.7,1236.7H1333.6"/><path d="M840.8,1260.6H950.4M958.7,1260.6H1333.6"/><path d="M840.8,1284.5H950.4M958.7,1284.5H1333.6"/><path d="M840.8,1308.3H950.4M958.7,1308.3H1333.6"/><path d="M840.8,1332.2H950.4M958.7,1332.2H1333.6"/><path d="M840.8,1356.1H950.4M958.7,1356.1H1333.6"/></svg><svg width="1445" height="1445" viewBox="0 0 1445 1445" style="left:0;top:0" fill="#0c0c0c"><circle cx="1377.4" cy="1345.2" r="2.0"/><circle cx="1368.1" cy="1346.1" r="2.0"/><circle cx="1359.2" cy="1348.8" r="2.0"/><circle cx="1351.0" cy="1353.2" r="2.0"/><circle cx="1343.7" cy="1359.1" r="2.0"/><circle cx="1337.8" cy="1366.4" r="2.0"/><circle cx="1333.4" cy="1374.6" r="2.0"/><circle cx="1330.7" cy="1383.5" r="2.0"/><circle cx="1329.8" cy="1392.8" r="2.0"/></svg></div></div>
<div class="lbl" style="left:715.70px;top:77.8px;transform:scaleX(1.0865)">HOLIDAY REMINDER PAGE</div>
<svg width="1445" height="1445" viewBox="0 0 1445 1445" style="left:0;top:0"><path d="M670,109.8 L691.5,97.8 L691.5,121.8 Z" fill="#fef9f3"/><path d="M691.5,110.39999999999999H1073.5" stroke="#fef9f3" stroke-width="2.05" stroke-dasharray="5.8 2.9" fill="none"/></svg>
<div class="lbl" style="left:800.40px;top:133.4px;transform:scaleX(1.0846)">MONTHLY PLANNER</div>
<svg width="1445" height="1445" viewBox="0 0 1445 1445" style="left:0;top:0"><path d="M739.7,166.3 L761.2,154.3 L761.2,178.3 Z" fill="#fef9f3"/><path d="M761.2,166.9H1099.4" stroke="#fef9f3" stroke-width="2.05" stroke-dasharray="5.8 2.9" fill="none"/></svg>
<div class="lbl" style="left:888.40px;top:188.4px;transform:scaleX(1.0702)">WEEKLY PLANNER</div>
<svg width="1445" height="1445" viewBox="0 0 1445 1445" style="left:0;top:0"><path d="M818.4,220.1 L840,208.1 L840,232.1 Z" fill="#fef9f3"/><path d="M840,220.7H1172" stroke="#fef9f3" stroke-width="2.05" stroke-dasharray="5.8 2.9" fill="none"/></svg>
<div class="lbl" style="left:934.10px;top:243.5px;transform:scaleX(1.0656)">DOTTED GRID BLANK PAGE</div>
<svg width="1445" height="1445" viewBox="0 0 1445 1445" style="left:0;top:0"><path d="M890,276.3 L911.6,264.3 L911.6,288.3 Z" fill="#fef9f3"/><path d="M911.6,276.90000000000003H1289.2" stroke="#fef9f3" stroke-width="2.05" stroke-dasharray="5.8 2.9" fill="none"/></svg>
<div class="lbl" style="left:1013.80px;top:297.6px;transform:scaleX(1.0587)">CONTACTS PAGE</div>
<svg width="1445" height="1445" viewBox="0 0 1445 1445" style="left:0;top:0"><path d="M974,329.6 L995.3,317.6 L995.3,341.6 Z" fill="#fef9f3"/><path d="M995.3,330.20000000000005H1305.2" stroke="#fef9f3" stroke-width="2.05" stroke-dasharray="5.8 2.9" fill="none"/></svg>
<div class="lbl" style="left:1090.20px;top:359.1px;transform:scaleX(1.0636)">CALENDAR PAGE</div>
<svg width="1445" height="1445" viewBox="0 0 1445 1445" style="left:0;top:0"><path d="M1052,391.1 L1073.7,379.1 L1073.7,403.1 Z" fill="#fef9f3"/><path d="M1073.7,391.70000000000005H1357" stroke="#fef9f3" stroke-width="2.05" stroke-dasharray="5.8 2.9" fill="none"/></svg>
<div class="lbl" style="left:207.20px;top:1144.1px;transform:scaleX(1.0588)">YEARLY PLANNER</div>
<svg width="1445" height="1445" viewBox="0 0 1445 1445" style="left:0;top:0"><path d="M502,1180.3 L480.7,1168.3 L480.7,1192.3 Z" fill="#fef9f3"/><path d="M98.3,1180.8999999999999H480.7" stroke="#fef9f3" stroke-width="2.05" stroke-dasharray="5.8 2.9" fill="none"/></svg>
<div class="lbl" style="left:314.20px;top:1208.9px;transform:scaleX(1.0403)">EXPENSES PAGE</div>
<svg width="1445" height="1445" viewBox="0 0 1445 1445" style="left:0;top:0"><path d="M592,1244.6 L570.4,1232.6 L570.4,1256.6 Z" fill="#fef9f3"/><path d="M188,1245.1999999999998H570.4" stroke="#fef9f3" stroke-width="2.05" stroke-dasharray="5.8 2.9" fill="none"/></svg>
<div class="lbl" style="left:246.40px;top:1273.7px;transform:scaleX(1.0815)">BIRTHDAY REMINDER PAGE</div>
<svg width="1445" height="1445" viewBox="0 0 1445 1445" style="left:0;top:0"><path d="M660.1,1309.3 L638.5,1297.3 L638.5,1321.3 Z" fill="#fef9f3"/><path d="M256,1309.8999999999999H638.5" stroke="#fef9f3" stroke-width="2.05" stroke-dasharray="5.8 2.9" fill="none"/></svg>
<div class="lbl" style="left:408.80px;top:1334.5px;transform:scaleX(1.0634)">TRAVEL ITINERARY PAGE</div>
<svg width="1445" height="1445" viewBox="0 0 1445 1445" style="left:0;top:0"><path d="M786.3,1369.8 L764.4,1357.8 L764.4,1381.8 Z" fill="#fef9f3"/><path d="M383,1370.3999999999999H764.4" stroke="#fef9f3" stroke-width="2.05" stroke-dasharray="5.8 2.9" fill="none"/></svg>
</div></body></html>
